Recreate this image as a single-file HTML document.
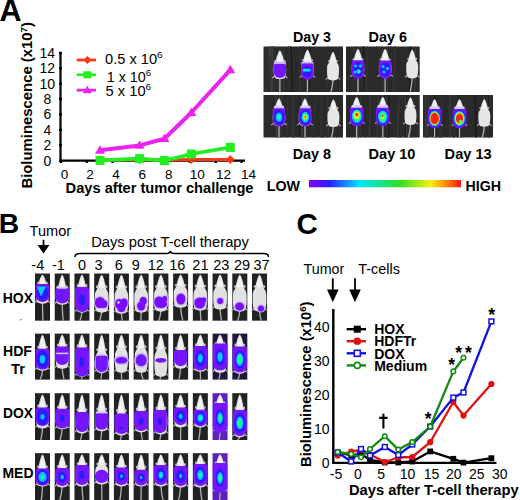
<!DOCTYPE html>
<html><head><meta charset="utf-8"><style>
html,body{margin:0;padding:0;background:#fff;width:520px;height:500px;overflow:hidden}
svg{display:block}
text{font-family:"Liberation Sans", sans-serif}
</style></head><body>
<svg width="520" height="500" viewBox="0 0 520 500" font-family='"Liberation Sans", sans-serif'>
<defs><filter id="soft" x="-5%" y="-5%" width="110%" height="110%"><feGaussianBlur stdDeviation="0.45"/></filter><radialGradient id="gP" cx="50%" cy="50%" r="50%"><stop offset="0" stop-color="#7400ff" stop-opacity="1"/><stop offset="0.75" stop-color="#7a08ff" stop-opacity="1"/><stop offset="1" stop-color="#a060ff" stop-opacity="0.0"/></radialGradient><radialGradient id="gB" cx="50%" cy="50%" r="50%"><stop offset="0" stop-color="#1830ff" stop-opacity="1"/><stop offset="0.6" stop-color="#3a1cff" stop-opacity="1"/><stop offset="0.85" stop-color="#7410ff" stop-opacity="1"/><stop offset="1" stop-color="#9050ff" stop-opacity="0"/></radialGradient><radialGradient id="gC" cx="50%" cy="50%" r="50%"><stop offset="0" stop-color="#20f0ff" stop-opacity="1"/><stop offset="0.35" stop-color="#10b0ff" stop-opacity="1"/><stop offset="0.6" stop-color="#2030ff" stop-opacity="1"/><stop offset="0.85" stop-color="#7410ff" stop-opacity="1"/><stop offset="1" stop-color="#9050ff" stop-opacity="0"/></radialGradient><radialGradient id="gG" cx="50%" cy="50%" r="50%"><stop offset="0" stop-color="#40ff40" stop-opacity="1"/><stop offset="0.3" stop-color="#10f0d0" stop-opacity="1"/><stop offset="0.5" stop-color="#10a0ff" stop-opacity="1"/><stop offset="0.7" stop-color="#2020ff" stop-opacity="1"/><stop offset="0.88" stop-color="#7410ff" stop-opacity="1"/><stop offset="1" stop-color="#9050ff" stop-opacity="0"/></radialGradient><radialGradient id="gY" cx="50%" cy="50%" r="50%"><stop offset="0" stop-color="#ff5010" stop-opacity="1"/><stop offset="0.2" stop-color="#f0f020" stop-opacity="1"/><stop offset="0.4" stop-color="#30ff60" stop-opacity="1"/><stop offset="0.55" stop-color="#10d0ff" stop-opacity="1"/><stop offset="0.72" stop-color="#2020ff" stop-opacity="1"/><stop offset="0.88" stop-color="#7410ff" stop-opacity="1"/><stop offset="1" stop-color="#9050ff" stop-opacity="0"/></radialGradient><radialGradient id="gR" cx="50%" cy="50%" r="50%"><stop offset="0" stop-color="#ff1010" stop-opacity="1"/><stop offset="0.38" stop-color="#ff1a10" stop-opacity="1"/><stop offset="0.5" stop-color="#f8e020" stop-opacity="1"/><stop offset="0.6" stop-color="#30ff70" stop-opacity="1"/><stop offset="0.7" stop-color="#10c0ff" stop-opacity="1"/><stop offset="0.8" stop-color="#2020ff" stop-opacity="1"/><stop offset="0.9" stop-color="#7410ff" stop-opacity="1"/><stop offset="1" stop-color="#9050ff" stop-opacity="0"/></radialGradient><radialGradient id="gW" cx="50%" cy="50%" r="50%"><stop offset="0" stop-color="#f4f4f4" stop-opacity="1"/><stop offset="0.7" stop-color="#d8d8d8" stop-opacity="1"/><stop offset="1" stop-color="#a0a0a0" stop-opacity="0.6"/></radialGradient><linearGradient id="cbar" x1="0" x2="1" y1="0" y2="0"><stop offset="0" stop-color="#8a00ff"/><stop offset="0.13" stop-color="#2a1cff"/><stop offset="0.33" stop-color="#00e4ff"/><stop offset="0.6" stop-color="#30e020"/><stop offset="0.8" stop-color="#f4f010"/><stop offset="0.9" stop-color="#ff8a00"/><stop offset="1" stop-color="#ff1010"/></linearGradient></defs>
<rect width="520" height="500" fill="#fff"/>
<text x="-0.5" y="21.3" font-size="30.5" font-weight="bold">A</text>
<text transform="translate(32,188.6) rotate(-90)" font-size="14" font-weight="bold" textLength="166.5" lengthAdjust="spacingAndGlyphs">Bioluminescence (x10<tspan font-size="9" dy="-5">7</tspan><tspan dy="5">)</tspan></text>
<path d="M60.5,53 L60.5,160.6 L245,160.6" stroke="#000" stroke-width="2.2" fill="none"/>
<rect x="59" y="159.3" width="3" height="2.4" fill="#000"/>
<text x="47.3" y="165.5" font-size="14" font-weight="normal" text-anchor="middle" fill="#000" >0</text>
<rect x="59" y="143.9" width="3" height="2.4" fill="#000"/>
<text x="47.3" y="150.1" font-size="14" font-weight="normal" text-anchor="middle" fill="#000" >2</text>
<rect x="59" y="128.6" width="3" height="2.4" fill="#000"/>
<text x="47.3" y="134.8" font-size="14" font-weight="normal" text-anchor="middle" fill="#000" >4</text>
<rect x="59" y="113.2" width="3" height="2.4" fill="#000"/>
<text x="47.3" y="119.4" font-size="14" font-weight="normal" text-anchor="middle" fill="#000" >6</text>
<rect x="59" y="97.9" width="3" height="2.4" fill="#000"/>
<text x="47.3" y="104.1" font-size="14" font-weight="normal" text-anchor="middle" fill="#000" >8</text>
<rect x="59" y="82.5" width="3" height="2.4" fill="#000"/>
<text x="47.3" y="88.7" font-size="14" font-weight="normal" text-anchor="middle" fill="#000" >10</text>
<rect x="59" y="67.1" width="3" height="2.4" fill="#000"/>
<text x="47.3" y="73.3" font-size="14" font-weight="normal" text-anchor="middle" fill="#000" >12</text>
<rect x="59" y="51.8" width="3" height="2.4" fill="#000"/>
<text x="47.3" y="58.0" font-size="14" font-weight="normal" text-anchor="middle" fill="#000" >14</text>
<rect x="59.8" y="160" width="2.4" height="3" fill="#000"/>
<text x="64.6" y="178.6" font-size="13.5" font-weight="normal" text-anchor="middle" fill="#000" >0</text>
<rect x="85.6" y="160" width="2.4" height="3" fill="#000"/>
<text x="90.1" y="178.6" font-size="13.5" font-weight="normal" text-anchor="middle" fill="#000" >2</text>
<rect x="111.4" y="160" width="2.4" height="3" fill="#000"/>
<text x="116.0" y="178.6" font-size="13.5" font-weight="normal" text-anchor="middle" fill="#000" >4</text>
<rect x="137.2" y="160" width="2.4" height="3" fill="#000"/>
<text x="142.2" y="178.6" font-size="13.5" font-weight="normal" text-anchor="middle" fill="#000" >6</text>
<rect x="163.0" y="160" width="2.4" height="3" fill="#000"/>
<text x="168.7" y="178.6" font-size="13.5" font-weight="normal" text-anchor="middle" fill="#000" >8</text>
<rect x="188.8" y="160" width="2.4" height="3" fill="#000"/>
<text x="197.3" y="178.6" font-size="13.5" font-weight="normal" text-anchor="middle" fill="#000" >10</text>
<rect x="214.6" y="160" width="2.4" height="3" fill="#000"/>
<text x="223.4" y="178.6" font-size="13.5" font-weight="normal" text-anchor="middle" fill="#000" >12</text>
<rect x="240.4" y="160" width="2.4" height="3" fill="#000"/>
<text x="248.6" y="178.6" font-size="13.5" font-weight="normal" text-anchor="middle" fill="#000" >14</text>
<text x="65.6" y="192.8" font-size="14" font-weight="bold" text-anchor="start" fill="#000" textLength="187.9" lengthAdjust="spacingAndGlyphs" >Days after tumor challenge</text>
<polyline points="100.0,159.8 139.6,159.6 164.4,160.0 191.4,159.5 230.3,159.5" stroke="#ff3a10" stroke-width="3.2" fill="none" stroke-linejoin="round"/>
<polyline points="100.0,160.4 139.6,158.6 164.4,160.6 191.4,154.0 230.3,147.4" stroke="#22ee22" stroke-width="3.8" fill="none" stroke-linejoin="round"/>
<polyline points="100.0,150.3 139.6,145.4 164.4,138.7 191.4,112.5 230.3,69.8" stroke="#ee22ee" stroke-width="4" fill="none" stroke-linejoin="round"/>
<path d="M100,155.20000000000002 L104.4,159.8 L100,164.4 L95.6,159.8Z" fill="#ff3a10"/>
<path d="M139.6,155.0 L144.0,159.6 L139.6,164.2 L135.2,159.6Z" fill="#ff3a10"/>
<path d="M164.4,155.4 L168.8,160.0 L164.4,164.6 L160.0,160.0Z" fill="#ff3a10"/>
<path d="M191.4,154.9 L195.8,159.5 L191.4,164.1 L187.0,159.5Z" fill="#ff3a10"/>
<path d="M230.3,154.9 L234.70000000000002,159.5 L230.3,164.1 L225.9,159.5Z" fill="#ff3a10"/>
<rect x="95.5" y="155.9" width="9" height="9" fill="#22ee22"/>
<rect x="135.1" y="154.1" width="9" height="9" fill="#22ee22"/>
<rect x="159.9" y="156.1" width="9" height="9" fill="#22ee22"/>
<rect x="186.9" y="149.5" width="9" height="9" fill="#22ee22"/>
<rect x="225.8" y="142.9" width="9" height="9" fill="#22ee22"/>
<path d="M100,145.3 L105,153.70000000000002 L95,153.70000000000002Z" fill="#ee22ee"/>
<path d="M139.6,140.4 L144.6,148.8 L134.6,148.8Z" fill="#ee22ee"/>
<path d="M164.4,133.7 L169.4,142.1 L159.4,142.1Z" fill="#ee22ee"/>
<path d="M191.4,107.5 L196.4,115.9 L186.4,115.9Z" fill="#ee22ee"/>
<path d="M230.3,64.8 L235.3,73.2 L225.3,73.2Z" fill="#ee22ee"/>
<line x1="76.7" y1="60" x2="96" y2="60" stroke="#ff3a10" stroke-width="2.8"/>
<path d="M87.3,56 L91.3,60 L87.3,64 L83.3,60Z" fill="#ff3a10"/>
<line x1="76.7" y1="74.8" x2="96" y2="74.8" stroke="#22ee22" stroke-width="2.8"/>
<rect x="83.3" y="71.3" width="8" height="7" fill="#22ee22"/>
<line x1="76.7" y1="90.2" x2="96" y2="90.2" stroke="#ee22ee" stroke-width="2.8"/>
<path d="M87.3,85.7 L91.8,93.2 L82.8,93.2Z" fill="#ee22ee"/>
<text x="105.1" y="64.1" font-size="14" textLength="57.5" lengthAdjust="spacingAndGlyphs">0.5 x 10<tspan font-size="9.5" dy="-6">6</tspan></text>
<text x="106.7" y="82.3" font-size="14" textLength="44.5" lengthAdjust="spacingAndGlyphs">1 x 10<tspan font-size="9.5" dy="-6">6</tspan></text>
<text x="105.6" y="95.8" font-size="14" textLength="45.5" lengthAdjust="spacingAndGlyphs">5 x 10<tspan font-size="9.5" dy="-6">6</tspan></text>
<text x="293" y="41.5" font-size="14" font-weight="bold" text-anchor="start" fill="#000" textLength="38" lengthAdjust="spacingAndGlyphs" >Day 3</text>
<text x="368.5" y="41.5" font-size="14" font-weight="bold" text-anchor="start" fill="#000" textLength="38.5" lengthAdjust="spacingAndGlyphs" >Day 6</text>
<text x="292.7" y="159.2" font-size="14" font-weight="bold" text-anchor="start" fill="#000" textLength="38.3" lengthAdjust="spacingAndGlyphs" >Day 8</text>
<text x="368.6" y="159.2" font-size="14" font-weight="bold" text-anchor="start" fill="#000" textLength="46.8" lengthAdjust="spacingAndGlyphs" >Day 10</text>
<text x="444.6" y="159.2" font-size="14" font-weight="bold" text-anchor="start" fill="#000" textLength="47.1" lengthAdjust="spacingAndGlyphs" >Day 13</text>
<rect x="309" y="180" width="152" height="7.3" fill="url(#cbar)"/>
<text x="266.7" y="191" font-size="14" font-weight="bold" text-anchor="start" fill="#000" textLength="33.3" lengthAdjust="spacingAndGlyphs" >LOW</text>
<text x="465.5" y="190.8" font-size="14" font-weight="bold" text-anchor="start" fill="#000" textLength="35.5" lengthAdjust="spacingAndGlyphs" >HIGH</text>
<g filter="url(#soft)">
<rect x="263.5" y="46.5" width="79.5" height="45.5" fill="#2b2b2b"/>
<line x1="289.6" y1="46.5" x2="288.2" y2="92.0" stroke="#363636" stroke-width="1.1"/>
<line x1="328.1" y1="46.5" x2="326.8" y2="92.0" stroke="#303030" stroke-width="1.0"/>
<line x1="303.8" y1="46.5" x2="303.6" y2="92.0" stroke="#303030" stroke-width="0.7"/>
<line x1="283.2" y1="46.5" x2="284.1" y2="92.0" stroke="#3c3c3c" stroke-width="1.1"/>
<line x1="274.1" y1="46.5" x2="274.3" y2="92.0" stroke="#363636" stroke-width="1.4"/>
<line x1="269.3" y1="46.5" x2="270.7" y2="92.0" stroke="#3c3c3c" stroke-width="1.1"/>
<line x1="268.1" y1="46.5" x2="267.0" y2="92.0" stroke="#363636" stroke-width="0.9"/>
<line x1="273.6" y1="46.5" x2="274.2" y2="92.0" stroke="#2c2c2c" stroke-width="1.3"/>
<line x1="272.5" y1="46.5" x2="272.1" y2="92.0" stroke="#3c3c3c" stroke-width="1.4"/>
<line x1="307.0" y1="46.5" x2="307.3" y2="92.0" stroke="#303030" stroke-width="1.3"/>
<line x1="303.0" y1="46.5" x2="302.4" y2="92.0" stroke="#3c3c3c" stroke-width="1.1"/>
<line x1="309.9" y1="46.5" x2="309.1" y2="92.0" stroke="#1a1a1a" stroke-width="1.0"/>
<line x1="278.4" y1="46.5" x2="277.8" y2="92.0" stroke="#363636" stroke-width="0.7"/>
<line x1="302.9" y1="46.5" x2="302.2" y2="92.0" stroke="#2c2c2c" stroke-width="1.5"/>
<line x1="340.5" y1="46.5" x2="339.5" y2="92.0" stroke="#303030" stroke-width="1.2"/>
<line x1="291.0" y1="46.5" x2="292.4" y2="92.0" stroke="#1a1a1a" stroke-width="1.1"/>
<line x1="270.5" y1="46.5" x2="271.6" y2="92.0" stroke="#3c3c3c" stroke-width="1.3"/>
<line x1="288.8" y1="46.5" x2="289.1" y2="92.0" stroke="#2c2c2c" stroke-width="1.3"/>
<line x1="299.9" y1="46.5" x2="299.8" y2="92.0" stroke="#303030" stroke-width="1.7"/>
<path d="M279.9,78.1 Q279.9,85.5 279.9,92.0" stroke="#b0b0b0" stroke-width="1.3" fill="none"/>
<path d="M272.1,78.1 L275.6,75.6 M287.6,78.1 L284.1,75.6" stroke="#a8a8a8" stroke-width="1.2" fill="none"/>
<path d="M279.9,50.6 C281.1,50.6 283.7,58.4 284.4,62.6 C285.1,64.3 286.1,64.8 286.1,68.3 C286.4,72.0 286.1,76.2 284.4,78.2 Q279.9,80.0 275.4,78.2 C273.6,76.2 273.4,72.0 273.6,68.3 C273.6,64.8 274.6,64.3 275.4,62.6 C276.1,58.4 278.6,50.6 279.9,50.6Z" fill="#e2e2e2"/>
<path d="M279.9,51.1 L283.5,62.2 L276.3,62.2Z" fill="#f2f2f2"/>
<ellipse cx="275.4" cy="61.1" rx="1.2" ry="1.1" fill="#c4c4c4"/>
<ellipse cx="284.4" cy="61.1" rx="1.2" ry="1.1" fill="#c4c4c4"/>
<path d="M307.5,77.3 Q307.5,85.2 307.5,92.0" stroke="#b0b0b0" stroke-width="1.3" fill="none"/>
<path d="M299.8,77.3 L303.2,74.8 M315.2,77.3 L311.8,74.8" stroke="#a8a8a8" stroke-width="1.2" fill="none"/>
<path d="M307.5,49.8 C308.8,49.8 311.3,57.6 312.0,61.8 C312.8,63.5 313.8,64.0 313.8,67.5 C314.0,71.2 313.8,75.5 312.0,77.4 Q307.5,79.2 303.0,77.4 C301.2,75.5 301.0,71.2 301.2,67.5 C301.2,64.0 302.2,63.5 303.0,61.8 C303.7,57.6 306.2,49.8 307.5,49.8Z" fill="#e2e2e2"/>
<path d="M307.5,50.3 L311.1,61.4 L303.9,61.4Z" fill="#f2f2f2"/>
<ellipse cx="303.0" cy="60.3" rx="1.2" ry="1.1" fill="#c4c4c4"/>
<ellipse cx="312.0" cy="60.3" rx="1.2" ry="1.1" fill="#c4c4c4"/>
<path d="M333.0,79.5 Q332.6,86.2 331.0,92.0" stroke="#b0b0b0" stroke-width="1.3" fill="none"/>
<path d="M325.6,79.5 L329.1,77.0 M340.4,79.5 L336.9,77.0" stroke="#a8a8a8" stroke-width="1.2" fill="none"/>
<path d="M333.0,52.0 C334.2,52.0 336.2,58.7 336.8,62.3 C337.5,64.0 338.9,64.5 338.9,68.0 C339.1,73.4 338.9,77.7 337.2,79.6 Q333.0,81.4 328.8,79.6 C327.1,77.7 326.9,73.4 327.1,68.0 C327.1,64.5 328.5,64.0 329.2,62.3 C329.8,58.7 331.8,52.0 333.0,52.0Z" fill="#e6e6e6"/>
<path d="M333.0,52.5 L336.0,62.0 L330.0,62.0Z" fill="#f0f0f0"/>
<ellipse cx="329.2" cy="61.0" rx="1.2" ry="1.1" fill="#c4c4c4"/>
<ellipse cx="336.8" cy="61.0" rx="1.2" ry="1.1" fill="#c4c4c4"/>
<rect x="273.8" y="62" width="12.2" height="3" fill="#c8b0ff"/>
<path d="M273.8,66.0 Q273.8,64.0 275.8,64.0 L284.0,64.0 Q286.0,64.0 286.0,66.0 L286.0,71.6 C286.0,76.1 282.9,78.0 279.9,78.0 C276.8,78.0 273.8,76.1 273.8,71.6Z" fill="#7412ff" fill-opacity="1"/>
<rect x="301.3" y="62" width="12.2" height="3" fill="#c8b0ff"/>
<path d="M301.1,65.5 Q301.1,63.5 303.1,63.5 L311.7,63.5 Q313.7,63.5 313.7,65.5 L313.7,72.9 C313.7,77.5 310.5,79.5 307.4,79.5 C304.2,79.5 301.1,77.5 301.1,72.9Z" fill="#7412ff" fill-opacity="1"/>
<ellipse cx="307.4" cy="71.5" rx="4.4" ry="5.6" fill="#2c1cff"/>
<rect x="302.7" y="68.8" width="8" height="2.6" rx="1.2" fill="#10e0f0"/>
</g>
<g filter="url(#soft)">
<rect x="346" y="46.5" width="73.7" height="45.5" fill="#2b2b2b"/>
<line x1="394.6" y1="46.5" x2="394.0" y2="92.0" stroke="#303030" stroke-width="1.5"/>
<line x1="388.4" y1="46.5" x2="388.1" y2="92.0" stroke="#1a1a1a" stroke-width="0.9"/>
<line x1="394.9" y1="46.5" x2="394.5" y2="92.0" stroke="#303030" stroke-width="1.7"/>
<line x1="390.8" y1="46.5" x2="391.6" y2="92.0" stroke="#1a1a1a" stroke-width="0.7"/>
<line x1="356.3" y1="46.5" x2="357.5" y2="92.0" stroke="#363636" stroke-width="1.1"/>
<line x1="382.6" y1="46.5" x2="382.7" y2="92.0" stroke="#363636" stroke-width="1.1"/>
<line x1="410.3" y1="46.5" x2="409.7" y2="92.0" stroke="#1a1a1a" stroke-width="1.6"/>
<line x1="376.8" y1="46.5" x2="376.4" y2="92.0" stroke="#2c2c2c" stroke-width="1.4"/>
<line x1="363.5" y1="46.5" x2="362.7" y2="92.0" stroke="#303030" stroke-width="0.8"/>
<line x1="363.7" y1="46.5" x2="362.8" y2="92.0" stroke="#1a1a1a" stroke-width="1.6"/>
<line x1="367.2" y1="46.5" x2="366.8" y2="92.0" stroke="#363636" stroke-width="1.1"/>
<line x1="387.6" y1="46.5" x2="387.7" y2="92.0" stroke="#363636" stroke-width="1.4"/>
<line x1="391.3" y1="46.5" x2="392.4" y2="92.0" stroke="#303030" stroke-width="1.1"/>
<line x1="415.3" y1="46.5" x2="414.9" y2="92.0" stroke="#3c3c3c" stroke-width="1.1"/>
<line x1="354.4" y1="46.5" x2="353.1" y2="92.0" stroke="#1a1a1a" stroke-width="0.7"/>
<line x1="362.0" y1="46.5" x2="362.3" y2="92.0" stroke="#363636" stroke-width="0.7"/>
<line x1="354.3" y1="46.5" x2="353.1" y2="92.0" stroke="#3c3c3c" stroke-width="0.8"/>
<line x1="373.1" y1="46.5" x2="372.2" y2="92.0" stroke="#303030" stroke-width="0.7"/>
<path d="M358.0,76.5 Q358.0,84.8 358.0,92.0" stroke="#b0b0b0" stroke-width="1.3" fill="none"/>
<path d="M350.2,76.5 L353.8,74.0 M365.8,76.5 L362.2,74.0" stroke="#a8a8a8" stroke-width="1.2" fill="none"/>
<path d="M358.0,49.0 C359.2,49.0 361.8,56.8 362.5,61.0 C363.2,62.7 364.2,63.2 364.2,66.7 C364.5,70.4 364.2,74.7 362.5,76.6 Q358.0,78.4 353.5,76.6 C351.8,74.7 351.5,70.4 351.8,66.7 C351.8,63.2 352.8,62.7 353.5,61.0 C354.2,56.8 356.8,49.0 358.0,49.0Z" fill="#e2e2e2"/>
<path d="M358.0,49.5 L361.6,60.6 L354.4,60.6Z" fill="#f2f2f2"/>
<ellipse cx="353.5" cy="59.5" rx="1.2" ry="1.1" fill="#c4c4c4"/>
<ellipse cx="362.5" cy="59.5" rx="1.2" ry="1.1" fill="#c4c4c4"/>
<path d="M385.1,76.5 Q385.1,84.8 385.1,92.0" stroke="#b0b0b0" stroke-width="1.3" fill="none"/>
<path d="M377.4,76.5 L380.9,74.0 M392.9,76.5 L389.4,74.0" stroke="#a8a8a8" stroke-width="1.2" fill="none"/>
<path d="M385.1,49.0 C386.4,49.0 388.9,56.8 389.6,61.0 C390.4,62.7 391.4,63.2 391.4,66.7 C391.6,70.4 391.4,74.7 389.6,76.6 Q385.1,78.4 380.6,76.6 C378.9,74.7 378.6,70.4 378.9,66.7 C378.9,63.2 379.9,62.7 380.6,61.0 C381.3,56.8 383.9,49.0 385.1,49.0Z" fill="#e2e2e2"/>
<path d="M385.1,49.5 L388.7,60.6 L381.5,60.6Z" fill="#f2f2f2"/>
<ellipse cx="380.6" cy="59.5" rx="1.2" ry="1.1" fill="#c4c4c4"/>
<ellipse cx="389.6" cy="59.5" rx="1.2" ry="1.1" fill="#c4c4c4"/>
<path d="M412.2,77.3 Q411.8,85.2 410.2,92.0" stroke="#b0b0b0" stroke-width="1.3" fill="none"/>
<path d="M404.8,77.3 L408.3,74.8 M419.6,77.3 L416.1,74.8" stroke="#a8a8a8" stroke-width="1.2" fill="none"/>
<path d="M412.2,49.8 C413.4,49.8 415.4,56.5 416.0,60.1 C416.7,61.8 418.1,62.3 418.1,65.8 C418.3,71.2 418.1,75.5 416.4,77.4 Q412.2,79.2 408.0,77.4 C406.3,75.5 406.1,71.2 406.3,65.8 C406.3,62.3 407.7,61.8 408.4,60.1 C409.0,56.5 411.0,49.8 412.2,49.8Z" fill="#e6e6e6"/>
<path d="M412.2,50.3 L415.2,59.8 L409.2,59.8Z" fill="#f0f0f0"/>
<ellipse cx="408.4" cy="58.8" rx="1.2" ry="1.1" fill="#c4c4c4"/>
<ellipse cx="416.0" cy="58.8" rx="1.2" ry="1.1" fill="#c4c4c4"/>
<path d="M351.7,62.3 Q351.7,60.3 353.7,60.3 L362.3,60.3 Q364.3,60.3 364.3,62.3 L364.3,72.1 C364.3,76.7 361.1,78.7 358.0,78.7 C354.9,78.7 351.7,76.7 351.7,72.1Z" fill="#7412ff" fill-opacity="1"/>
<ellipse cx="358.0" cy="69.5" rx="4.9" ry="7.2" fill="#2c1cff"/>
<ellipse cx="355.5" cy="66.0" rx="1.6" ry="1.5" fill="#10c8ff" fill-opacity="1"/>
<ellipse cx="360.5" cy="66.0" rx="1.6" ry="1.5" fill="#10c8ff" fill-opacity="1"/>
<ellipse cx="355.0" cy="72.0" rx="1.6" ry="1.5" fill="#10c8ff" fill-opacity="1"/>
<ellipse cx="358.6" cy="71.5" rx="2.6" ry="2.6" fill="#7412ff"/>
<ellipse cx="358.6" cy="71.5" rx="2.6" ry="2.6" fill="#2c1cff"/>
<ellipse cx="358.6" cy="71.5" rx="2.3" ry="2.3" fill="#10c0ff"/>
<ellipse cx="358.6" cy="71.5" rx="1.6" ry="1.6" fill="#20ff80"/>
<path d="M378.8,62.5 Q378.8,60.5 380.8,60.5 L389.4,60.5 Q391.4,60.5 391.4,62.5 L391.4,71.9 C391.4,76.5 388.2,78.5 385.1,78.5 C382.0,78.5 378.8,76.5 378.8,71.9Z" fill="#7412ff" fill-opacity="1"/>
<ellipse cx="385.1" cy="69.5" rx="4.9" ry="7.0" fill="#2c1cff"/>
<ellipse cx="383.0" cy="66.5" rx="1.6" ry="1.5" fill="#10c8ff" fill-opacity="1"/>
<ellipse cx="387.5" cy="68.5" rx="1.6" ry="1.5" fill="#10c8ff" fill-opacity="1"/>
<ellipse cx="384.0" cy="72.0" rx="1.6" ry="1.5" fill="#10c8ff" fill-opacity="1"/>
</g>
<g filter="url(#soft)">
<rect x="263.5" y="95" width="79.5" height="42.5" fill="#2b2b2b"/>
<line x1="293.7" y1="95" x2="294.0" y2="137.5" stroke="#2c2c2c" stroke-width="1.7"/>
<line x1="301.2" y1="95" x2="302.7" y2="137.5" stroke="#303030" stroke-width="1.6"/>
<line x1="300.6" y1="95" x2="299.5" y2="137.5" stroke="#1a1a1a" stroke-width="1.0"/>
<line x1="322.6" y1="95" x2="323.2" y2="137.5" stroke="#2c2c2c" stroke-width="1.2"/>
<line x1="304.5" y1="95" x2="304.6" y2="137.5" stroke="#363636" stroke-width="1.7"/>
<line x1="275.9" y1="95" x2="276.6" y2="137.5" stroke="#3c3c3c" stroke-width="1.7"/>
<line x1="287.6" y1="95" x2="286.9" y2="137.5" stroke="#303030" stroke-width="1.4"/>
<line x1="292.9" y1="95" x2="292.1" y2="137.5" stroke="#363636" stroke-width="1.0"/>
<line x1="306.5" y1="95" x2="305.6" y2="137.5" stroke="#3c3c3c" stroke-width="1.0"/>
<line x1="327.4" y1="95" x2="328.3" y2="137.5" stroke="#363636" stroke-width="1.6"/>
<line x1="321.8" y1="95" x2="321.8" y2="137.5" stroke="#363636" stroke-width="0.8"/>
<line x1="321.2" y1="95" x2="321.1" y2="137.5" stroke="#303030" stroke-width="1.5"/>
<line x1="279.5" y1="95" x2="279.3" y2="137.5" stroke="#3c3c3c" stroke-width="1.7"/>
<line x1="337.1" y1="95" x2="336.7" y2="137.5" stroke="#2c2c2c" stroke-width="1.7"/>
<line x1="281.6" y1="95" x2="281.1" y2="137.5" stroke="#363636" stroke-width="1.2"/>
<line x1="301.9" y1="95" x2="301.8" y2="137.5" stroke="#3c3c3c" stroke-width="1.6"/>
<line x1="315.1" y1="95" x2="314.0" y2="137.5" stroke="#303030" stroke-width="1.6"/>
<line x1="294.6" y1="95" x2="293.6" y2="137.5" stroke="#363636" stroke-width="1.2"/>
<line x1="325.7" y1="95" x2="327.0" y2="137.5" stroke="#2c2c2c" stroke-width="0.7"/>
<path d="M279.0,125.1 Q279.0,131.8 279.0,137.5" stroke="#b0b0b0" stroke-width="1.3" fill="none"/>
<path d="M271.2,125.1 L274.8,122.6 M286.8,125.1 L283.2,122.6" stroke="#a8a8a8" stroke-width="1.2" fill="none"/>
<path d="M279.0,98.6 C280.2,98.6 282.8,106.1 283.5,110.1 C284.2,111.8 285.2,112.3 285.2,115.6 C285.5,119.2 285.2,123.3 283.5,125.3 Q279.0,126.9 274.5,125.3 C272.8,123.3 272.5,119.2 272.8,115.6 C272.8,112.3 273.8,111.8 274.5,110.1 C275.2,106.1 277.8,98.6 279.0,98.6Z" fill="#e2e2e2"/>
<path d="M279.0,99.1 L282.6,109.8 L275.4,109.8Z" fill="#f2f2f2"/>
<ellipse cx="274.5" cy="108.8" rx="1.2" ry="1.1" fill="#c4c4c4"/>
<ellipse cx="283.5" cy="108.8" rx="1.2" ry="1.1" fill="#c4c4c4"/>
<path d="M305.0,125.1 Q305.0,131.8 305.0,137.5" stroke="#b0b0b0" stroke-width="1.3" fill="none"/>
<path d="M297.2,125.1 L300.8,122.6 M312.8,125.1 L309.2,122.6" stroke="#a8a8a8" stroke-width="1.2" fill="none"/>
<path d="M305.0,98.6 C306.2,98.6 308.8,106.1 309.5,110.1 C310.2,111.8 311.2,112.3 311.2,115.6 C311.5,119.2 311.2,123.3 309.5,125.3 Q305.0,126.9 300.5,125.3 C298.8,123.3 298.5,119.2 298.8,115.6 C298.8,112.3 299.8,111.8 300.5,110.1 C301.2,106.1 303.8,98.6 305.0,98.6Z" fill="#e2e2e2"/>
<path d="M305.0,99.1 L308.6,109.8 L301.4,109.8Z" fill="#f2f2f2"/>
<ellipse cx="300.5" cy="108.8" rx="1.2" ry="1.1" fill="#c4c4c4"/>
<ellipse cx="309.5" cy="108.8" rx="1.2" ry="1.1" fill="#c4c4c4"/>
<path d="M333.4,126.0 Q333.0,132.2 331.4,137.5" stroke="#b0b0b0" stroke-width="1.3" fill="none"/>
<path d="M326.0,126.0 L329.5,123.5 M340.8,126.0 L337.3,123.5" stroke="#a8a8a8" stroke-width="1.2" fill="none"/>
<path d="M333.4,99.5 C334.6,99.5 336.6,105.9 337.2,109.4 C337.9,111.0 339.3,111.6 339.3,114.9 C339.5,120.1 339.3,124.2 337.6,126.2 Q333.4,127.8 329.2,126.2 C327.5,124.2 327.3,120.1 327.5,114.9 C327.5,111.6 328.9,111.0 329.6,109.4 C330.2,105.9 332.2,99.5 333.4,99.5Z" fill="#e6e6e6"/>
<path d="M333.4,100.0 L336.4,109.1 L330.4,109.1Z" fill="#f0f0f0"/>
<ellipse cx="329.6" cy="108.2" rx="1.2" ry="1.1" fill="#c4c4c4"/>
<ellipse cx="337.2" cy="108.2" rx="1.2" ry="1.1" fill="#c4c4c4"/>
<rect x="274" y="105.8" width="10" height="2.6" fill="#d8c8ff"/>
<rect x="300.3" y="105.8" width="10" height="2.6" fill="#d8c8ff"/>
<path d="M272.8,110.2 Q272.8,108.2 274.8,108.2 L283.2,108.2 Q285.2,108.2 285.2,110.2 L285.2,119.7 C285.2,124.2 282.1,126.2 279.0,126.2 C275.9,126.2 272.8,124.2 272.8,119.7Z" fill="#7412ff" fill-opacity="1"/>
<ellipse cx="279.0" cy="117.2" rx="5.3" ry="7.7" fill="#2c1cff"/>
<ellipse cx="279.0" cy="117.2" rx="3.1" ry="4.5" fill="#10c0ff"/>
<ellipse cx="279.0" cy="117.2" rx="1.5" ry="2.2" fill="#20ff80"/>
<path d="M298.9,110.2 Q298.9,108.2 300.9,108.2 L309.7,108.2 Q311.7,108.2 311.7,110.2 L311.7,119.5 C311.7,124.2 308.5,126.2 305.3,126.2 C302.1,126.2 298.9,124.2 298.9,119.5Z" fill="#7412ff" fill-opacity="1"/>
<ellipse cx="305.3" cy="117.2" rx="5.5" ry="7.7" fill="#2c1cff"/>
<ellipse cx="305.3" cy="117.2" rx="3.8" ry="5.4" fill="#10c0ff"/>
<ellipse cx="305.3" cy="117.2" rx="2.7" ry="3.8" fill="#20ff80"/>
<ellipse cx="305.3" cy="117.2" rx="1.7" ry="2.3" fill="#f0f020"/>
<ellipse cx="305.3" cy="117.2" rx="0.8" ry="1.1" fill="#ff2010"/>
</g>
<g filter="url(#soft)">
<rect x="346" y="95" width="73.7" height="42.5" fill="#2b2b2b"/>
<line x1="398.8" y1="95" x2="400.1" y2="137.5" stroke="#1a1a1a" stroke-width="1.1"/>
<line x1="399.0" y1="95" x2="397.6" y2="137.5" stroke="#363636" stroke-width="1.8"/>
<line x1="389.4" y1="95" x2="388.3" y2="137.5" stroke="#1a1a1a" stroke-width="1.6"/>
<line x1="406.3" y1="95" x2="405.8" y2="137.5" stroke="#1a1a1a" stroke-width="1.4"/>
<line x1="386.3" y1="95" x2="387.2" y2="137.5" stroke="#363636" stroke-width="0.6"/>
<line x1="399.1" y1="95" x2="400.4" y2="137.5" stroke="#303030" stroke-width="1.2"/>
<line x1="378.1" y1="95" x2="377.2" y2="137.5" stroke="#363636" stroke-width="1.6"/>
<line x1="365.1" y1="95" x2="365.8" y2="137.5" stroke="#2c2c2c" stroke-width="1.2"/>
<line x1="370.4" y1="95" x2="369.3" y2="137.5" stroke="#3c3c3c" stroke-width="1.1"/>
<line x1="412.2" y1="95" x2="412.7" y2="137.5" stroke="#2c2c2c" stroke-width="1.7"/>
<line x1="405.4" y1="95" x2="406.7" y2="137.5" stroke="#3c3c3c" stroke-width="1.1"/>
<line x1="383.0" y1="95" x2="383.0" y2="137.5" stroke="#3c3c3c" stroke-width="0.8"/>
<line x1="409.6" y1="95" x2="410.4" y2="137.5" stroke="#363636" stroke-width="1.3"/>
<line x1="357.7" y1="95" x2="358.4" y2="137.5" stroke="#363636" stroke-width="1.2"/>
<line x1="386.9" y1="95" x2="387.0" y2="137.5" stroke="#2c2c2c" stroke-width="1.4"/>
<line x1="381.6" y1="95" x2="380.3" y2="137.5" stroke="#303030" stroke-width="1.7"/>
<line x1="360.7" y1="95" x2="360.7" y2="137.5" stroke="#303030" stroke-width="1.5"/>
<line x1="387.3" y1="95" x2="387.6" y2="137.5" stroke="#303030" stroke-width="1.1"/>
<path d="M356.6,123.5 Q356.6,131.0 356.6,137.5" stroke="#b0b0b0" stroke-width="1.3" fill="none"/>
<path d="M348.9,123.5 L352.4,121.0 M364.4,123.5 L360.9,121.0" stroke="#a8a8a8" stroke-width="1.2" fill="none"/>
<path d="M356.6,97.0 C357.9,97.0 360.4,104.5 361.1,108.5 C361.9,110.2 362.9,110.8 362.9,114.0 C363.1,117.6 362.9,121.8 361.1,123.7 Q356.6,125.3 352.1,123.7 C350.4,121.8 350.1,117.6 350.4,114.0 C350.4,110.8 351.4,110.2 352.1,108.5 C352.8,104.5 355.4,97.0 356.6,97.0Z" fill="#e2e2e2"/>
<path d="M356.6,97.5 L360.2,108.2 L353.0,108.2Z" fill="#f2f2f2"/>
<ellipse cx="352.1" cy="107.2" rx="1.2" ry="1.1" fill="#c4c4c4"/>
<ellipse cx="361.1" cy="107.2" rx="1.2" ry="1.1" fill="#c4c4c4"/>
<path d="M382.8,123.5 Q382.8,131.0 382.8,137.5" stroke="#b0b0b0" stroke-width="1.3" fill="none"/>
<path d="M375.1,123.5 L378.6,121.0 M390.6,123.5 L387.1,121.0" stroke="#a8a8a8" stroke-width="1.2" fill="none"/>
<path d="M382.8,97.0 C384.1,97.0 386.6,104.5 387.3,108.5 C388.1,110.2 389.1,110.8 389.1,114.0 C389.3,117.6 389.1,121.8 387.3,123.7 Q382.8,125.3 378.3,123.7 C376.6,121.8 376.3,117.6 376.6,114.0 C376.6,110.8 377.6,110.2 378.3,108.5 C379.0,104.5 381.6,97.0 382.8,97.0Z" fill="#e2e2e2"/>
<path d="M382.8,97.5 L386.4,108.2 L379.2,108.2Z" fill="#f2f2f2"/>
<ellipse cx="378.3" cy="107.2" rx="1.2" ry="1.1" fill="#c4c4c4"/>
<ellipse cx="387.3" cy="107.2" rx="1.2" ry="1.1" fill="#c4c4c4"/>
<path d="M410.5,124.0 Q410.1,131.2 408.5,137.5" stroke="#b0b0b0" stroke-width="1.3" fill="none"/>
<path d="M403.1,124.0 L406.6,121.5 M417.9,124.0 L414.4,121.5" stroke="#a8a8a8" stroke-width="1.2" fill="none"/>
<path d="M410.5,97.5 C411.7,97.5 413.7,103.9 414.3,107.4 C415.0,109.0 416.4,109.6 416.4,112.9 C416.6,118.1 416.4,122.2 414.7,124.2 Q410.5,125.8 406.3,124.2 C404.6,122.2 404.4,118.1 404.6,112.9 C404.6,109.6 406.0,109.0 406.7,107.4 C407.3,103.9 409.3,97.5 410.5,97.5Z" fill="#e6e6e6"/>
<path d="M410.5,98.0 L413.5,107.1 L407.5,107.1Z" fill="#f0f0f0"/>
<ellipse cx="406.7" cy="106.2" rx="1.2" ry="1.1" fill="#c4c4c4"/>
<ellipse cx="414.3" cy="106.2" rx="1.2" ry="1.1" fill="#c4c4c4"/>
<rect x="351.8" y="105" width="10" height="2.8" fill="#d8c8ff"/>
<rect x="377.8" y="105" width="10" height="2.8" fill="#d8c8ff"/>
<path d="M349.9,109.7 Q349.9,107.7 351.9,107.7 L361.7,107.7 Q363.7,107.7 363.7,109.7 L363.7,119.1 C363.7,124.1 360.2,126.3 356.8,126.3 C353.4,126.3 349.9,124.1 349.9,119.1Z" fill="#7412ff" fill-opacity="1"/>
<ellipse cx="356.8" cy="116.6" rx="5.9" ry="8.0" fill="#2c1cff"/>
<ellipse cx="356.8" cy="116.2" rx="5.0" ry="6.7" fill="#10c0ff"/>
<ellipse cx="356.8" cy="115.7" rx="4.0" ry="5.4" fill="#20ff80"/>
<ellipse cx="356.8" cy="115.2" rx="2.8" ry="3.7" fill="#f0f020"/>
<ellipse cx="356.8" cy="114.6" rx="1.4" ry="1.9" fill="#ff2010"/>
<path d="M375.9,109.7 Q375.9,107.7 377.9,107.7 L387.7,107.7 Q389.7,107.7 389.7,109.7 L389.7,119.1 C389.7,124.1 386.2,126.3 382.8,126.3 C379.4,126.3 375.9,124.1 375.9,119.1Z" fill="#7412ff" fill-opacity="1"/>
<ellipse cx="382.8" cy="117.0" rx="5.9" ry="8.0" fill="#2c1cff"/>
<ellipse cx="382.8" cy="117.0" rx="4.8" ry="6.5" fill="#10c0ff"/>
<ellipse cx="382.8" cy="117.0" rx="3.6" ry="4.8" fill="#20ff80"/>
<ellipse cx="382.8" cy="117.0" rx="1.7" ry="2.3" fill="#f0f020"/>
<ellipse cx="382.5" cy="116.0" rx="1.2" ry="1.0" fill="#ff2010" fill-opacity="1"/>
</g>
<g filter="url(#soft)">
<rect x="423" y="95" width="70" height="42.5" fill="#2b2b2b"/>
<line x1="458.4" y1="95" x2="457.7" y2="137.5" stroke="#3c3c3c" stroke-width="0.8"/>
<line x1="458.6" y1="95" x2="457.8" y2="137.5" stroke="#1a1a1a" stroke-width="1.2"/>
<line x1="459.6" y1="95" x2="460.8" y2="137.5" stroke="#2c2c2c" stroke-width="1.7"/>
<line x1="437.8" y1="95" x2="436.6" y2="137.5" stroke="#1a1a1a" stroke-width="0.8"/>
<line x1="454.1" y1="95" x2="453.8" y2="137.5" stroke="#303030" stroke-width="1.4"/>
<line x1="438.5" y1="95" x2="439.7" y2="137.5" stroke="#2c2c2c" stroke-width="1.5"/>
<line x1="434.5" y1="95" x2="435.7" y2="137.5" stroke="#2c2c2c" stroke-width="0.8"/>
<line x1="489.8" y1="95" x2="488.6" y2="137.5" stroke="#363636" stroke-width="1.5"/>
<line x1="484.2" y1="95" x2="485.2" y2="137.5" stroke="#363636" stroke-width="1.8"/>
<line x1="435.0" y1="95" x2="434.7" y2="137.5" stroke="#1a1a1a" stroke-width="1.8"/>
<line x1="452.6" y1="95" x2="453.3" y2="137.5" stroke="#2c2c2c" stroke-width="1.0"/>
<line x1="425.3" y1="95" x2="425.9" y2="137.5" stroke="#3c3c3c" stroke-width="1.2"/>
<line x1="450.1" y1="95" x2="450.2" y2="137.5" stroke="#3c3c3c" stroke-width="1.3"/>
<line x1="428.4" y1="95" x2="427.2" y2="137.5" stroke="#363636" stroke-width="1.8"/>
<line x1="442.1" y1="95" x2="441.1" y2="137.5" stroke="#303030" stroke-width="1.7"/>
<line x1="475.4" y1="95" x2="475.9" y2="137.5" stroke="#1a1a1a" stroke-width="1.6"/>
<line x1="488.3" y1="95" x2="489.6" y2="137.5" stroke="#1a1a1a" stroke-width="0.8"/>
<path d="M434.6,125.8 Q434.6,132.2 434.6,137.5" stroke="#b0b0b0" stroke-width="1.3" fill="none"/>
<path d="M426.9,125.8 L430.4,123.3 M442.4,125.8 L438.9,123.3" stroke="#a8a8a8" stroke-width="1.2" fill="none"/>
<path d="M434.6,99.3 C435.9,99.3 438.4,106.8 439.1,110.8 C439.9,112.5 440.9,113.0 440.9,116.3 C441.1,119.9 440.9,124.0 439.1,126.0 Q434.6,127.6 430.1,126.0 C428.4,124.0 428.1,119.9 428.4,116.3 C428.4,113.0 429.4,112.5 430.1,110.8 C430.8,106.8 433.4,99.3 434.6,99.3Z" fill="#e2e2e2"/>
<path d="M434.6,99.8 L438.2,110.5 L431.0,110.5Z" fill="#f2f2f2"/>
<ellipse cx="430.1" cy="109.5" rx="1.2" ry="1.1" fill="#c4c4c4"/>
<ellipse cx="439.1" cy="109.5" rx="1.2" ry="1.1" fill="#c4c4c4"/>
<path d="M459.5,125.8 Q459.5,132.2 459.5,137.5" stroke="#b0b0b0" stroke-width="1.3" fill="none"/>
<path d="M451.8,125.8 L455.2,123.3 M467.2,125.8 L463.8,123.3" stroke="#a8a8a8" stroke-width="1.2" fill="none"/>
<path d="M459.5,99.3 C460.8,99.3 463.3,106.8 464.0,110.8 C464.8,112.5 465.8,113.0 465.8,116.3 C466.0,119.9 465.8,124.0 464.0,126.0 Q459.5,127.6 455.0,126.0 C453.2,124.0 453.0,119.9 453.2,116.3 C453.2,113.0 454.2,112.5 455.0,110.8 C455.7,106.8 458.2,99.3 459.5,99.3Z" fill="#e2e2e2"/>
<path d="M459.5,99.8 L463.1,110.5 L455.9,110.5Z" fill="#f2f2f2"/>
<ellipse cx="455.0" cy="109.5" rx="1.2" ry="1.1" fill="#c4c4c4"/>
<ellipse cx="464.0" cy="109.5" rx="1.2" ry="1.1" fill="#c4c4c4"/>
<path d="M484.3,125.8 Q483.9,132.2 482.3,137.5" stroke="#b0b0b0" stroke-width="1.3" fill="none"/>
<path d="M476.9,125.8 L480.4,123.3 M491.7,125.8 L488.2,123.3" stroke="#a8a8a8" stroke-width="1.2" fill="none"/>
<path d="M484.3,99.3 C485.5,99.3 487.5,105.7 488.1,109.2 C488.8,110.8 490.2,111.4 490.2,114.7 C490.4,119.9 490.2,124.0 488.5,126.0 Q484.3,127.6 480.1,126.0 C478.4,124.0 478.2,119.9 478.4,114.7 C478.4,111.4 479.8,110.8 480.5,109.2 C481.1,105.7 483.1,99.3 484.3,99.3Z" fill="#e6e6e6"/>
<path d="M484.3,99.8 L487.3,108.9 L481.3,108.9Z" fill="#f0f0f0"/>
<ellipse cx="480.5" cy="108.0" rx="1.2" ry="1.1" fill="#c4c4c4"/>
<ellipse cx="488.1" cy="108.0" rx="1.2" ry="1.1" fill="#c4c4c4"/>
<rect x="429.6" y="106.5" width="10" height="2.6" fill="#d8c8ff"/>
<rect x="454.5" y="106.5" width="10" height="2.6" fill="#d8c8ff"/>
<path d="M427.6,110.9 Q427.6,108.9 429.6,108.9 L439.6,108.9 Q441.6,108.9 441.6,110.9 L441.6,120.8 C441.6,125.9 438.1,128.1 434.6,128.1 C431.1,128.1 427.6,125.9 427.6,120.8Z" fill="#7412ff" fill-opacity="1"/>
<ellipse cx="434.6" cy="118.5" rx="6.2" ry="8.4" fill="#2c1cff"/>
<ellipse cx="434.6" cy="118.5" rx="5.6" ry="7.7" fill="#10c0ff"/>
<ellipse cx="434.6" cy="118.5" rx="5.0" ry="6.9" fill="#20ff80"/>
<ellipse cx="434.6" cy="118.5" rx="4.6" ry="6.3" fill="#f0f020"/>
<ellipse cx="434.6" cy="118.5" rx="4.2" ry="5.8" fill="#ff2010"/>
<path d="M452.5,110.9 Q452.5,108.9 454.5,108.9 L464.5,108.9 Q466.5,108.9 466.5,110.9 L466.5,120.8 C466.5,125.9 463.0,128.1 459.5,128.1 C456.0,128.1 452.5,125.9 452.5,120.8Z" fill="#7412ff" fill-opacity="1"/>
<ellipse cx="459.5" cy="118.5" rx="6.2" ry="8.4" fill="#2c1cff"/>
<ellipse cx="459.5" cy="118.5" rx="5.5" ry="7.5" fill="#10c0ff"/>
<ellipse cx="459.5" cy="118.5" rx="4.9" ry="6.7" fill="#20ff80"/>
<ellipse cx="459.5" cy="118.5" rx="4.3" ry="6.0" fill="#f0f020"/>
<ellipse cx="459.5" cy="118.5" rx="3.6" ry="5.0" fill="#ff2010"/>
<ellipse cx="460.5" cy="121.5" rx="1.8" ry="1.8" fill="#30ff50" fill-opacity="1"/>
</g>
<text x="-1.2" y="232.8" font-size="28.3" font-weight="bold">B</text>
<text x="29.6" y="236.3" font-size="14" font-weight="normal" text-anchor="start" fill="#000" textLength="41.6" lengthAdjust="spacingAndGlyphs" >Tumor</text>
<line x1="43.5" y1="239.8" x2="43.5" y2="246" stroke="#000" stroke-width="1.8"/>
<path d="M37.5,245 L49.5,245 L43.5,253.4Z" fill="#000"/>
<text x="91.2" y="246.6" font-size="14" font-weight="normal" text-anchor="start" fill="#000" textLength="157.7" lengthAdjust="spacingAndGlyphs" >Days post T-cell therapy</text>
<path d="M75,257 Q75,253.6 80,253.6 L166,253.6 Q170.4,253.6 170.4,250.8 Q170.4,253.6 175,253.6 L263.5,253.6 Q268.5,253.6 268.5,257" stroke="#000" stroke-width="1.5" fill="none"/>
<text x="37.75" y="269.8" font-size="14.5" font-weight="normal" text-anchor="middle" fill="#000" >-4</text>
<text x="58.4" y="269.8" font-size="14.5" font-weight="normal" text-anchor="middle" fill="#000" >-1</text>
<text x="82" y="269.8" font-size="14.5" font-weight="normal" text-anchor="middle" fill="#000" >0</text>
<text x="98.5" y="269.8" font-size="14.5" font-weight="normal" text-anchor="middle" fill="#000" >3</text>
<text x="118.8" y="269.8" font-size="14.5" font-weight="normal" text-anchor="middle" fill="#000" >6</text>
<text x="135.7" y="269.8" font-size="14.5" font-weight="normal" text-anchor="middle" fill="#000" >9</text>
<text x="155.8" y="269.8" font-size="14.5" font-weight="normal" text-anchor="middle" fill="#000" >12</text>
<text x="177.3" y="269.8" font-size="14.5" font-weight="normal" text-anchor="middle" fill="#000" >16</text>
<text x="200.4" y="269.8" font-size="14.5" font-weight="normal" text-anchor="middle" fill="#000" >21</text>
<text x="221.2" y="269.8" font-size="14.5" font-weight="normal" text-anchor="middle" fill="#000" >23</text>
<text x="242" y="269.8" font-size="14.5" font-weight="normal" text-anchor="middle" fill="#000" >29</text>
<text x="261.5" y="269.8" font-size="14.5" font-weight="normal" text-anchor="middle" fill="#000" >37</text>
<circle cx="20.8" cy="319.6" r="0.9" fill="#888"/>
<text x="2.8" y="303" font-size="14" font-weight="bold" text-anchor="start" fill="#000" textLength="30.2" lengthAdjust="spacingAndGlyphs" >HOX</text>
<text x="3" y="356" font-size="14" font-weight="bold" text-anchor="start" fill="#000" textLength="29" lengthAdjust="spacingAndGlyphs" >HDF</text>
<text x="11" y="374" font-size="14" font-weight="bold" text-anchor="start" fill="#000" textLength="14" lengthAdjust="spacingAndGlyphs" >Tr</text>
<text x="3" y="418" font-size="14" font-weight="bold" text-anchor="start" fill="#000" textLength="30" lengthAdjust="spacingAndGlyphs" >DOX</text>
<text x="2.5" y="478.4" font-size="14" font-weight="bold" text-anchor="start" fill="#000" textLength="31" lengthAdjust="spacingAndGlyphs" >MED</text>
<g filter="url(#soft)">
<rect x="35.0" y="273.5" width="15" height="47.2" fill="#222222"/>
<path d="M42.5,302.7 Q42.6,312.2 42.9,320.7" stroke="#b0b0b0" stroke-width="1.3" fill="none"/>
<path d="M34.6,302.7 L38.1,300.2 M50.4,302.7 L46.9,300.2" stroke="#a8a8a8" stroke-width="1.2" fill="none"/>
<path d="M42.5,274.7 C43.8,274.7 46.0,280.7 46.6,284.0 C47.4,285.7 48.9,286.3 48.9,289.8 C49.2,296.4 48.9,300.8 47.1,302.8 Q42.5,304.6 37.9,302.8 C36.1,300.8 35.8,296.4 36.1,289.8 C36.1,286.3 37.6,285.7 38.4,284.0 C39.0,280.7 41.2,274.7 42.5,274.7Z" fill="#e2e2e2"/>
<path d="M42.5,275.2 L45.8,283.7 L39.2,283.7Z" fill="#f2f2f2"/>
<ellipse cx="38.4" cy="282.9" rx="1.3" ry="1.2" fill="#c4c4c4"/>
<ellipse cx="46.6" cy="282.9" rx="1.3" ry="1.2" fill="#c4c4c4"/>
<path d="M35.6,286.0 Q35.6,284.0 37.6,284.0 L47.4,284.0 Q49.4,284.0 49.4,286.0 L49.4,294.8 C49.4,299.8 46.0,302.0 42.5,302.0 C39.0,302.0 35.6,299.8 35.6,294.8Z" fill="#7412ff" fill-opacity="1"/>
<ellipse cx="42.5" cy="293.0" rx="5.7" ry="7.4" fill="#2c1cff"/>
<path d="M37.0,286.5 L46.0,286.5 L41.0,296.5Z" fill="#10c8ff"/>
</g>
<g filter="url(#soft)">
<rect x="54.730000000000004" y="273.5" width="15" height="47.2" fill="#222222"/>
<path d="M62.2,303.7 Q62.4,312.7 63.2,320.7" stroke="#b0b0b0" stroke-width="1.3" fill="none"/>
<path d="M54.3,303.7 L57.8,301.2 M70.1,303.7 L66.6,301.2" stroke="#a8a8a8" stroke-width="1.2" fill="none"/>
<path d="M62.2,274.7 C63.5,274.7 65.7,283.5 66.3,288.2 C67.1,290.0 68.6,290.6 68.6,294.2 C68.9,297.2 68.6,301.7 66.8,303.8 Q62.2,305.6 57.6,303.8 C55.8,301.7 55.6,297.2 55.8,294.2 C55.8,290.6 57.4,290.0 58.1,288.2 C58.7,283.5 61.0,274.7 62.2,274.7Z" fill="#e2e2e2"/>
<path d="M62.2,275.2 L65.5,287.8 L59.0,287.8Z" fill="#f2f2f2"/>
<ellipse cx="58.1" cy="286.6" rx="1.3" ry="1.2" fill="#c4c4c4"/>
<ellipse cx="66.3" cy="286.6" rx="1.3" ry="1.2" fill="#c4c4c4"/>
<path d="M55.3,290.5 Q55.3,288.5 57.3,288.5 L67.1,288.5 Q69.1,288.5 69.1,290.5 L69.1,296.3 C69.1,301.3 65.7,303.5 62.2,303.5 C58.8,303.5 55.3,301.3 55.3,296.3Z" fill="#7412ff" fill-opacity="1"/>
<ellipse cx="62.2" cy="296.0" rx="1.0" ry="1.1" fill="#2c1cff"/>
<rect x="56.230000000000004" y="286.8" width="12" height="1.6" fill="#d8c8f8"/>
</g>
<g filter="url(#soft)">
<rect x="74.46000000000001" y="273.5" width="15" height="47.2" fill="#222222"/>
<path d="M82.0,311.7 Q81.5,316.7 79.9,320.7" stroke="#b0b0b0" stroke-width="1.3" fill="none"/>
<path d="M74.1,311.7 L77.6,309.2 M89.9,311.7 L86.4,309.2" stroke="#a8a8a8" stroke-width="1.2" fill="none"/>
<path d="M82.0,274.7 C83.2,274.7 85.4,282.7 86.1,287.0 C86.8,289.3 88.4,290.0 88.4,294.6 C88.6,303.2 88.4,308.9 86.6,311.6 Q82.0,313.8 77.4,311.6 C75.6,308.9 75.3,303.2 75.6,294.6 C75.6,290.0 77.1,289.3 77.9,287.0 C78.5,282.7 80.7,274.7 82.0,274.7Z" fill="#e2e2e2"/>
<path d="M82.0,275.2 L85.2,286.6 L78.7,286.6Z" fill="#f2f2f2"/>
<ellipse cx="77.9" cy="285.5" rx="1.3" ry="1.5" fill="#c4c4c4"/>
<ellipse cx="86.1" cy="285.5" rx="1.3" ry="1.5" fill="#c4c4c4"/>
<path d="M75.0,289.0 Q75.0,287.0 77.0,287.0 L87.0,287.0 Q89.0,287.0 89.0,289.0 L89.0,304.6 C89.0,309.8 85.5,312.0 82.0,312.0 C78.5,312.0 75.0,309.8 75.0,304.6Z" fill="#7412ff" fill-opacity="1"/>
<ellipse cx="82.0" cy="299.5" rx="3.1" ry="5.6" fill="#2c1cff"/>
</g>
<g filter="url(#soft)">
<rect x="94.19" y="273.5" width="15" height="47.2" fill="#222222"/>
<path d="M101.7,311.7 Q101.2,316.7 99.5,320.7" stroke="#b0b0b0" stroke-width="1.3" fill="none"/>
<path d="M93.4,311.7 L96.9,309.2 M110.0,311.7 L106.5,309.2" stroke="#a8a8a8" stroke-width="1.2" fill="none"/>
<path d="M101.7,274.7 C103.0,274.7 105.4,283.6 106.0,288.4 C106.9,290.7 108.5,291.4 108.5,296.0 C108.8,303.2 108.5,308.9 106.6,311.6 Q101.7,313.8 96.8,311.6 C94.9,308.9 94.6,303.2 94.9,296.0 C94.9,291.4 96.5,290.7 97.3,288.4 C98.0,283.6 100.3,274.7 101.7,274.7Z" fill="#e2e2e2"/>
<path d="M101.7,275.2 L105.2,288.0 L98.2,288.0Z" fill="#f2f2f2"/>
<ellipse cx="97.3" cy="286.7" rx="1.4" ry="1.5" fill="#c4c4c4"/>
<ellipse cx="106.0" cy="286.7" rx="1.4" ry="1.5" fill="#c4c4c4"/>
<ellipse cx="99.9" cy="302.5" rx="6.1" ry="6.6" fill="#c8b0ff" fill-opacity="0.9"/>
<ellipse cx="103.9" cy="304.0" rx="4.6" ry="5.1" fill="#c8b0ff" fill-opacity="0.9"/>
<ellipse cx="99.9" cy="302.5" rx="5.0" ry="5.5" fill="#7a08ff" fill-opacity="1"/>
<ellipse cx="103.9" cy="304.0" rx="3.5" ry="4.0" fill="#7a08ff" fill-opacity="1"/>
</g>
<g filter="url(#soft)">
<rect x="113.92" y="273.5" width="15" height="47.2" fill="#222222"/>
<path d="M121.4,312.7 Q121.6,317.2 122.4,320.7" stroke="#b0b0b0" stroke-width="1.3" fill="none"/>
<path d="M113.1,312.7 L116.6,310.2 M129.7,312.7 L126.2,310.2" stroke="#a8a8a8" stroke-width="1.2" fill="none"/>
<path d="M121.4,274.7 C122.8,274.7 125.1,283.8 125.8,288.7 C126.6,291.1 128.2,291.9 128.2,296.5 C128.5,303.9 128.2,309.8 126.3,312.5 Q121.4,314.9 116.5,312.5 C114.6,309.8 114.3,303.9 114.6,296.5 C114.6,291.9 116.3,291.1 117.1,288.7 C117.7,283.8 120.1,274.7 121.4,274.7Z" fill="#e2e2e2"/>
<path d="M121.4,275.2 L124.9,288.3 L117.9,288.3Z" fill="#f2f2f2"/>
<ellipse cx="117.1" cy="287.1" rx="1.4" ry="1.6" fill="#c4c4c4"/>
<ellipse cx="125.8" cy="287.1" rx="1.4" ry="1.6" fill="#c4c4c4"/>
<ellipse cx="119.1" cy="304.0" rx="5.1" ry="6.1" fill="#c8b0ff" fill-opacity="0.9"/>
<ellipse cx="124.1" cy="303.0" rx="4.6" ry="5.6" fill="#c8b0ff" fill-opacity="0.9"/>
<ellipse cx="121.4" cy="308.0" rx="5.1" ry="5.1" fill="#c8b0ff" fill-opacity="0.9"/>
<ellipse cx="119.1" cy="304.0" rx="4.0" ry="5.0" fill="#7a08ff" fill-opacity="1"/>
<ellipse cx="124.1" cy="303.0" rx="3.5" ry="4.5" fill="#7a08ff" fill-opacity="1"/>
<ellipse cx="121.4" cy="308.0" rx="4.0" ry="4.0" fill="#7a08ff" fill-opacity="1"/>
<ellipse cx="118.5" cy="302.5" rx="1.3" ry="1.3" fill="#e8e0ff" fill-opacity="1"/>
</g>
<g filter="url(#soft)">
<rect x="133.65" y="273.5" width="15" height="47.2" fill="#222222"/>
<path d="M141.2,311.7 Q141.1,316.7 140.8,320.7" stroke="#b0b0b0" stroke-width="1.3" fill="none"/>
<path d="M132.8,311.7 L136.3,309.2 M149.5,311.7 L146.0,309.2" stroke="#a8a8a8" stroke-width="1.2" fill="none"/>
<path d="M141.2,274.7 C142.5,274.7 144.8,283.6 145.5,288.4 C146.3,290.7 148.0,291.4 148.0,296.0 C148.2,303.2 148.0,308.9 146.0,311.6 Q141.2,313.8 136.3,311.6 C134.3,308.9 134.1,303.2 134.3,296.0 C134.3,291.4 136.0,290.7 136.8,288.4 C137.5,283.6 139.8,274.7 141.2,274.7Z" fill="#e2e2e2"/>
<path d="M141.2,275.2 L144.6,288.0 L137.7,288.0Z" fill="#f2f2f2"/>
<ellipse cx="136.8" cy="286.7" rx="1.4" ry="1.5" fill="#c4c4c4"/>
<ellipse cx="145.5" cy="286.7" rx="1.4" ry="1.5" fill="#c4c4c4"/>
<ellipse cx="143.2" cy="301.0" rx="4.6" ry="5.1" fill="#c8b0ff" fill-opacity="0.9"/>
<ellipse cx="141.2" cy="306.0" rx="5.1" ry="5.6" fill="#c8b0ff" fill-opacity="0.9"/>
<ellipse cx="143.2" cy="301.0" rx="3.5" ry="4.0" fill="#7a08ff" fill-opacity="1"/>
<ellipse cx="141.2" cy="306.0" rx="4.0" ry="4.5" fill="#7a08ff" fill-opacity="1"/>
</g>
<g filter="url(#soft)">
<rect x="153.38" y="273.5" width="15" height="47.2" fill="#222222"/>
<path d="M160.9,310.7 Q160.5,316.2 158.7,320.7" stroke="#b0b0b0" stroke-width="1.3" fill="none"/>
<path d="M152.6,310.7 L156.1,308.2 M169.2,310.7 L165.7,308.2" stroke="#a8a8a8" stroke-width="1.2" fill="none"/>
<path d="M160.9,274.7 C162.2,274.7 164.6,283.4 165.2,288.0 C166.0,290.2 167.7,291.0 167.7,295.4 C168.0,302.4 167.7,308.0 165.8,310.6 Q160.9,312.8 156.0,310.6 C154.1,308.0 153.8,302.4 154.1,295.4 C154.1,291.0 155.7,290.2 156.5,288.0 C157.2,283.4 159.5,274.7 160.9,274.7Z" fill="#e2e2e2"/>
<path d="M160.9,275.2 L164.4,287.6 L157.4,287.6Z" fill="#f2f2f2"/>
<ellipse cx="156.5" cy="286.4" rx="1.4" ry="1.5" fill="#c4c4c4"/>
<ellipse cx="165.2" cy="286.4" rx="1.4" ry="1.5" fill="#c4c4c4"/>
<ellipse cx="159.2" cy="302.0" rx="6.1" ry="6.6" fill="#c8b0ff" fill-opacity="0.9"/>
<ellipse cx="164.7" cy="299.0" rx="3.6" ry="4.1" fill="#c8b0ff" fill-opacity="0.9"/>
<ellipse cx="161.2" cy="304.0" rx="7.1" ry="5.1" fill="#c8b0ff" fill-opacity="0.9"/>
<ellipse cx="159.2" cy="302.0" rx="5.0" ry="5.5" fill="#7a08ff" fill-opacity="1"/>
<ellipse cx="164.7" cy="299.0" rx="2.5" ry="3.0" fill="#7a08ff" fill-opacity="1"/>
<ellipse cx="161.2" cy="304.0" rx="6.0" ry="4.0" fill="#7a08ff" fill-opacity="1"/>
</g>
<g filter="url(#soft)">
<rect x="173.11" y="273.5" width="15" height="47.2" fill="#222222"/>
<path d="M180.6,306.7 Q181.0,314.2 182.8,320.7" stroke="#b0b0b0" stroke-width="1.3" fill="none"/>
<path d="M172.3,306.7 L175.8,304.2 M188.9,306.7 L185.4,304.2" stroke="#a8a8a8" stroke-width="1.2" fill="none"/>
<path d="M180.6,274.7 C182.0,274.7 184.3,282.4 185.0,286.6 C185.8,288.6 187.4,289.2 187.4,293.2 C187.7,299.4 187.4,304.4 185.5,306.7 Q180.6,308.7 175.7,306.7 C173.8,304.4 173.5,299.4 173.8,293.2 C173.8,289.2 175.4,288.6 176.3,286.6 C176.9,282.4 179.2,274.7 180.6,274.7Z" fill="#e2e2e2"/>
<path d="M180.6,275.2 L184.1,286.2 L177.1,286.2Z" fill="#f2f2f2"/>
<ellipse cx="176.3" cy="285.2" rx="1.4" ry="1.3" fill="#c4c4c4"/>
<ellipse cx="185.0" cy="285.2" rx="1.4" ry="1.3" fill="#c4c4c4"/>
<ellipse cx="180.9" cy="299.0" rx="5.6" ry="6.6" fill="#c8b0ff" fill-opacity="0.9"/>
<ellipse cx="180.9" cy="299.0" rx="4.5" ry="5.5" fill="#7a08ff" fill-opacity="1"/>
</g>
<g filter="url(#soft)">
<rect x="192.84" y="273.5" width="15" height="47.2" fill="#222222"/>
<path d="M200.3,309.7 Q200.5,315.7 201.0,320.7" stroke="#b0b0b0" stroke-width="1.3" fill="none"/>
<path d="M192.0,309.7 L195.5,307.2 M208.6,309.7 L205.1,307.2" stroke="#a8a8a8" stroke-width="1.2" fill="none"/>
<path d="M200.3,274.7 C201.7,274.7 204.0,283.1 204.7,287.7 C205.5,289.8 207.1,290.5 207.1,294.9 C207.4,301.7 207.1,307.1 205.2,309.6 Q200.3,311.8 195.4,309.6 C193.5,307.1 193.3,301.7 193.5,294.9 C193.5,290.5 195.2,289.8 196.0,287.7 C196.6,283.1 199.0,274.7 200.3,274.7Z" fill="#e2e2e2"/>
<path d="M200.3,275.2 L203.8,287.3 L196.9,287.3Z" fill="#f2f2f2"/>
<ellipse cx="196.0" cy="286.1" rx="1.4" ry="1.4" fill="#c4c4c4"/>
<ellipse cx="204.7" cy="286.1" rx="1.4" ry="1.4" fill="#c4c4c4"/>
<ellipse cx="199.8" cy="303.0" rx="6.6" ry="6.6" fill="#c8b0ff" fill-opacity="0.9"/>
<ellipse cx="203.8" cy="300.0" rx="3.6" ry="3.6" fill="#c8b0ff" fill-opacity="0.9"/>
<ellipse cx="199.8" cy="303.0" rx="5.5" ry="5.5" fill="#7a08ff" fill-opacity="1"/>
<ellipse cx="203.8" cy="300.0" rx="2.5" ry="2.5" fill="#7a08ff" fill-opacity="1"/>
</g>
<g filter="url(#soft)">
<rect x="212.57" y="273.5" width="15" height="47.2" fill="#222222"/>
<path d="M220.1,308.7 Q220.4,315.2 221.6,320.7" stroke="#b0b0b0" stroke-width="1.3" fill="none"/>
<path d="M211.8,308.7 L215.3,306.2 M228.4,308.7 L224.9,306.2" stroke="#a8a8a8" stroke-width="1.2" fill="none"/>
<path d="M220.1,274.7 C221.4,274.7 223.8,282.9 224.4,287.3 C225.2,289.4 226.9,290.1 226.9,294.3 C227.1,300.9 226.9,306.2 225.0,308.6 Q220.1,310.8 215.2,308.6 C213.3,306.2 213.0,300.9 213.3,294.3 C213.3,290.1 214.9,289.4 215.7,287.3 C216.4,282.9 218.7,274.7 220.1,274.7Z" fill="#e2e2e2"/>
<path d="M220.1,275.2 L223.6,286.9 L216.6,286.9Z" fill="#f2f2f2"/>
<ellipse cx="215.7" cy="285.8" rx="1.4" ry="1.4" fill="#c4c4c4"/>
<ellipse cx="224.4" cy="285.8" rx="1.4" ry="1.4" fill="#c4c4c4"/>
<ellipse cx="220.2" cy="301.0" rx="4.1" ry="4.1" fill="#c8b0ff" fill-opacity="0.9"/>
<ellipse cx="220.2" cy="301.0" rx="3.0" ry="3.0" fill="#7a08ff" fill-opacity="1"/>
</g>
<g filter="url(#soft)">
<rect x="232.3" y="273.5" width="15" height="47.2" fill="#222222"/>
<path d="M239.8,310.7 Q239.4,316.2 237.7,320.7" stroke="#b0b0b0" stroke-width="1.3" fill="none"/>
<path d="M231.5,310.7 L235.0,308.2 M248.1,310.7 L244.6,308.2" stroke="#a8a8a8" stroke-width="1.2" fill="none"/>
<path d="M239.8,274.7 C241.2,274.7 243.5,283.4 244.2,288.0 C245.0,290.2 246.6,291.0 246.6,295.4 C246.9,302.4 246.6,308.0 244.7,310.6 Q239.8,312.8 234.9,310.6 C233.0,308.0 232.7,302.4 233.0,295.4 C233.0,291.0 234.6,290.2 235.4,288.0 C236.1,283.4 238.4,274.7 239.8,274.7Z" fill="#e2e2e2"/>
<path d="M239.8,275.2 L243.3,287.6 L236.3,287.6Z" fill="#f2f2f2"/>
<ellipse cx="235.4" cy="286.4" rx="1.4" ry="1.5" fill="#c4c4c4"/>
<ellipse cx="244.2" cy="286.4" rx="1.4" ry="1.5" fill="#c4c4c4"/>
<ellipse cx="239.6" cy="306.5" rx="5.6" ry="5.1" fill="#c8b0ff" fill-opacity="0.9"/>
<ellipse cx="239.6" cy="306.5" rx="4.5" ry="4.0" fill="#7a08ff" fill-opacity="1"/>
</g>
<g filter="url(#soft)">
<rect x="252.03" y="273.5" width="15" height="47.2" fill="#222222"/>
<path d="M259.5,310.7 Q259.9,316.2 261.3,320.7" stroke="#b0b0b0" stroke-width="1.3" fill="none"/>
<path d="M251.2,310.7 L254.7,308.2 M267.8,310.7 L264.3,308.2" stroke="#a8a8a8" stroke-width="1.2" fill="none"/>
<path d="M259.5,274.7 C260.9,274.7 263.2,283.4 263.9,288.0 C264.7,290.2 266.3,291.0 266.3,295.4 C266.6,302.4 266.3,308.0 264.4,310.6 Q259.5,312.8 254.6,310.6 C252.7,308.0 252.5,302.4 252.7,295.4 C252.7,291.0 254.4,290.2 255.2,288.0 C255.8,283.4 258.2,274.7 259.5,274.7Z" fill="#e2e2e2"/>
<path d="M259.5,275.2 L263.0,287.6 L256.0,287.6Z" fill="#f2f2f2"/>
<ellipse cx="255.2" cy="286.4" rx="1.4" ry="1.5" fill="#c4c4c4"/>
<ellipse cx="263.9" cy="286.4" rx="1.4" ry="1.5" fill="#c4c4c4"/>
<ellipse cx="261.0" cy="308.4" rx="4.1" ry="4.1" fill="#c8b0ff" fill-opacity="0.9"/>
<ellipse cx="261.0" cy="308.4" rx="3.0" ry="3.0" fill="#7a08ff" fill-opacity="1"/>
</g>
<g filter="url(#soft)">
<rect x="35.0" y="333.6" width="15" height="46" fill="#222222"/>
<path d="M42.5,369.8 Q42.1,375.2 40.3,379.6" stroke="#b0b0b0" stroke-width="1.3" fill="none"/>
<path d="M34.6,369.8 L38.1,367.3 M50.4,369.8 L46.9,367.3" stroke="#a8a8a8" stroke-width="1.2" fill="none"/>
<path d="M42.5,334.8 C43.8,334.8 46.0,343.9 46.6,348.8 C47.4,351.0 48.9,351.7 48.9,356.0 C49.2,361.8 48.9,367.2 47.1,369.7 Q42.5,371.9 37.9,369.7 C36.1,367.2 35.8,361.8 36.1,356.0 C36.1,351.7 37.6,351.0 38.4,348.8 C39.0,343.9 41.2,334.8 42.5,334.8Z" fill="#e2e2e2"/>
<path d="M42.5,335.3 L45.8,348.4 L39.2,348.4Z" fill="#f2f2f2"/>
<ellipse cx="38.4" cy="347.1" rx="1.3" ry="1.4" fill="#c4c4c4"/>
<ellipse cx="46.6" cy="347.1" rx="1.3" ry="1.4" fill="#c4c4c4"/>
<path d="M35.6,350.8 Q35.6,348.8 37.6,348.8 L47.4,348.8 Q49.4,348.8 49.4,350.8 L49.4,362.4 C49.4,367.4 46.0,369.6 42.5,369.6 C39.0,369.6 35.6,367.4 35.6,362.4Z" fill="#7412ff" fill-opacity="1"/>
<ellipse cx="42.5" cy="359.2" rx="5.9" ry="8.9" fill="#2c1cff"/>
<ellipse cx="42.5" cy="359.2" rx="2.8" ry="4.2" fill="#10c0ff"/>
</g>
<g filter="url(#soft)">
<rect x="54.730000000000004" y="333.6" width="15" height="46" fill="#222222"/>
<path d="M62.2,367.8 Q62.6,374.2 64.0,379.6" stroke="#b0b0b0" stroke-width="1.3" fill="none"/>
<path d="M54.3,367.8 L57.8,365.3 M70.1,367.8 L66.6,365.3" stroke="#a8a8a8" stroke-width="1.2" fill="none"/>
<path d="M62.2,334.8 C63.5,334.8 65.7,342.4 66.3,346.5 C67.1,348.5 68.6,349.2 68.6,353.3 C68.9,360.3 68.6,365.4 66.8,367.8 Q62.2,369.8 57.6,367.8 C55.8,365.4 55.6,360.3 55.8,353.3 C55.8,349.2 57.4,348.5 58.1,346.5 C58.7,342.4 61.0,334.8 62.2,334.8Z" fill="#e2e2e2"/>
<path d="M62.2,335.3 L65.5,346.1 L59.0,346.1Z" fill="#f2f2f2"/>
<ellipse cx="58.1" cy="345.1" rx="1.3" ry="1.4" fill="#c4c4c4"/>
<ellipse cx="66.3" cy="345.1" rx="1.3" ry="1.4" fill="#c4c4c4"/>
<path d="M55.6,348.5 Q55.6,346.5 57.6,346.5 L66.8,346.5 Q68.8,346.5 68.8,348.5 L68.8,358.0 C68.8,362.8 65.5,364.9 62.2,364.9 C58.9,364.9 55.6,362.8 55.6,358.0Z" fill="#7412ff" fill-opacity="1"/>
<rect x="56.230000000000004" y="352.6" width="12" height="1.6" fill="#d8c8f8"/>
</g>
<g filter="url(#soft)">
<rect x="74.46000000000001" y="333.6" width="15" height="46" fill="#222222"/>
<path d="M82.0,375.8 Q81.9,378.2 81.7,379.6" stroke="#b0b0b0" stroke-width="1.3" fill="none"/>
<path d="M74.1,375.8 L77.6,373.3 M89.9,375.8 L86.4,373.3" stroke="#a8a8a8" stroke-width="1.2" fill="none"/>
<path d="M82.0,334.8 C83.2,334.8 85.4,343.1 86.1,347.5 C86.8,350.0 88.4,350.9 88.4,355.9 C88.6,366.3 88.4,372.6 86.6,375.5 Q82.0,378.1 77.4,375.5 C75.6,372.6 75.3,366.3 75.6,355.9 C75.6,350.9 77.1,350.0 77.9,347.5 C78.5,343.1 80.7,334.8 82.0,334.8Z" fill="#e2e2e2"/>
<path d="M82.0,335.3 L85.2,347.1 L78.7,347.1Z" fill="#f2f2f2"/>
<ellipse cx="77.9" cy="346.0" rx="1.3" ry="1.7" fill="#c4c4c4"/>
<ellipse cx="86.1" cy="346.0" rx="1.3" ry="1.7" fill="#c4c4c4"/>
<path d="M75.0,349.5 Q75.0,347.5 77.0,347.5 L87.0,347.5 Q89.0,347.5 89.0,349.5 L89.0,369.1 C89.0,374.3 85.5,376.5 82.0,376.5 C78.5,376.5 75.0,374.3 75.0,369.1Z" fill="#7412ff" fill-opacity="1"/>
<ellipse cx="82.0" cy="362.0" rx="2.4" ry="5.1" fill="#2c1cff"/>
</g>
<g filter="url(#soft)">
<rect x="94.19" y="333.6" width="15" height="46" fill="#222222"/>
<path d="M101.7,371.8 Q101.5,376.2 100.9,379.6" stroke="#b0b0b0" stroke-width="1.3" fill="none"/>
<path d="M93.8,371.8 L97.3,369.3 M109.6,371.8 L106.1,369.3" stroke="#a8a8a8" stroke-width="1.2" fill="none"/>
<path d="M101.7,334.8 C103.0,334.8 105.2,345.9 105.8,351.9 C106.6,354.2 108.1,354.9 108.1,359.5 C108.3,363.3 108.1,369.0 106.3,371.7 Q101.7,373.9 97.1,371.7 C95.3,369.0 95.0,363.3 95.3,359.5 C95.3,354.9 96.8,354.2 97.6,351.9 C98.2,345.9 100.4,334.8 101.7,334.8Z" fill="#e2e2e2"/>
<path d="M101.7,335.3 L105.0,351.4 L98.4,351.4Z" fill="#f2f2f2"/>
<ellipse cx="97.6" cy="349.8" rx="1.3" ry="1.5" fill="#c4c4c4"/>
<ellipse cx="105.8" cy="349.8" rx="1.3" ry="1.5" fill="#c4c4c4"/>
<ellipse cx="101.7" cy="363.8" rx="7.5" ry="9.5" fill="#c8b0ff" fill-opacity="0.9"/>
<path d="M95.7,357.8 Q95.7,355.8 97.7,355.8 L105.7,355.8 Q107.7,355.8 107.7,357.8 L107.7,365.5 C107.7,369.9 104.7,371.8 101.7,371.8 C98.7,371.8 95.7,369.9 95.7,365.5Z" fill="#7412ff" fill-opacity="1"/>
</g>
<g filter="url(#soft)">
<rect x="113.92" y="333.6" width="15" height="46" fill="#222222"/>
<path d="M121.4,371.8 Q121.5,376.2 121.7,379.6" stroke="#b0b0b0" stroke-width="1.3" fill="none"/>
<path d="M113.5,371.8 L117.0,369.3 M129.3,371.8 L125.8,369.3" stroke="#a8a8a8" stroke-width="1.2" fill="none"/>
<path d="M121.4,334.8 C122.7,334.8 124.9,343.7 125.5,348.5 C126.3,350.8 127.8,351.5 127.8,356.1 C128.1,363.3 127.8,369.0 126.0,371.7 Q121.4,373.9 116.8,371.7 C115.0,369.0 114.8,363.3 115.0,356.1 C115.0,351.5 116.6,350.8 117.3,348.5 C117.9,343.7 120.1,334.8 121.4,334.8Z" fill="#e2e2e2"/>
<path d="M121.4,335.3 L124.7,348.1 L118.1,348.1Z" fill="#f2f2f2"/>
<ellipse cx="117.3" cy="346.8" rx="1.3" ry="1.5" fill="#c4c4c4"/>
<ellipse cx="125.5" cy="346.8" rx="1.3" ry="1.5" fill="#c4c4c4"/>
<ellipse cx="121.4" cy="360.3" rx="7.5" ry="5.0" fill="#c8b0ff" fill-opacity="0.9"/>
<ellipse cx="121.4" cy="360.3" rx="6.0" ry="3.3" fill="#7412ff"/>
</g>
<g filter="url(#soft)">
<rect x="133.65" y="333.6" width="15" height="46" fill="#222222"/>
<path d="M141.2,371.8 Q141.6,376.2 143.3,379.6" stroke="#b0b0b0" stroke-width="1.3" fill="none"/>
<path d="M133.2,371.8 L136.8,369.3 M149.1,371.8 L145.6,369.3" stroke="#a8a8a8" stroke-width="1.2" fill="none"/>
<path d="M141.2,334.8 C142.4,334.8 144.6,343.7 145.2,348.5 C146.0,350.8 147.6,351.5 147.6,356.1 C147.8,363.3 147.6,369.0 145.8,371.7 Q141.2,373.9 136.5,371.7 C134.8,369.0 134.5,363.3 134.8,356.1 C134.8,351.5 136.3,350.8 137.1,348.5 C137.7,343.7 139.9,334.8 141.2,334.8Z" fill="#e2e2e2"/>
<path d="M141.2,335.3 L144.4,348.1 L137.9,348.1Z" fill="#f2f2f2"/>
<ellipse cx="137.1" cy="346.8" rx="1.3" ry="1.5" fill="#c4c4c4"/>
<ellipse cx="145.2" cy="346.8" rx="1.3" ry="1.5" fill="#c4c4c4"/>
<ellipse cx="141.2" cy="360.3" rx="7.0" ry="7.5" fill="#c8b0ff" fill-opacity="0.9"/>
<ellipse cx="141.2" cy="360.3" rx="5.5" ry="6.0" fill="#7412ff"/>
</g>
<g filter="url(#soft)">
<rect x="153.38" y="333.6" width="15" height="46" fill="#222222"/>
<path d="M160.9,375.8 Q160.6,378.2 159.7,379.6" stroke="#b0b0b0" stroke-width="1.3" fill="none"/>
<path d="M153.0,375.8 L156.5,373.3 M168.8,375.8 L165.3,373.3" stroke="#a8a8a8" stroke-width="1.2" fill="none"/>
<path d="M160.9,334.8 C162.2,334.8 164.4,344.6 165.0,349.9 C165.7,352.4 167.3,353.3 167.3,358.3 C167.5,366.3 167.3,372.6 165.5,375.5 Q160.9,378.1 156.3,375.5 C154.5,372.6 154.2,366.3 154.5,358.3 C154.5,353.3 156.0,352.4 156.8,349.9 C157.4,344.6 159.6,334.8 160.9,334.8Z" fill="#e2e2e2"/>
<path d="M160.9,335.3 L164.2,349.5 L157.6,349.5Z" fill="#f2f2f2"/>
<ellipse cx="156.8" cy="348.1" rx="1.3" ry="1.7" fill="#c4c4c4"/>
<ellipse cx="165.0" cy="348.1" rx="1.3" ry="1.7" fill="#c4c4c4"/>
<ellipse cx="160.9" cy="360.3" rx="5.5" ry="2.4" fill="#7412ff"/>
</g>
<g filter="url(#soft)">
<rect x="173.11" y="333.6" width="15" height="46" fill="#222222"/>
<path d="M180.6,367.8 Q180.2,374.2 178.8,379.6" stroke="#b0b0b0" stroke-width="1.3" fill="none"/>
<path d="M172.7,367.8 L176.2,365.3 M188.5,367.8 L185.0,365.3" stroke="#a8a8a8" stroke-width="1.2" fill="none"/>
<path d="M180.6,334.8 C181.9,334.8 184.1,344.7 184.7,350.0 C185.5,352.0 187.0,352.7 187.0,356.8 C187.3,360.3 187.0,365.4 185.2,367.8 Q180.6,369.8 176.0,367.8 C174.2,365.4 174.0,360.3 174.2,356.8 C174.2,352.7 175.7,352.0 176.5,350.0 C177.1,344.7 179.3,334.8 180.6,334.8Z" fill="#e2e2e2"/>
<path d="M180.6,335.3 L183.9,349.5 L177.3,349.5Z" fill="#f2f2f2"/>
<ellipse cx="176.5" cy="348.2" rx="1.3" ry="1.4" fill="#c4c4c4"/>
<ellipse cx="184.7" cy="348.2" rx="1.3" ry="1.4" fill="#c4c4c4"/>
<path d="M173.9,352.0 Q173.9,350.0 175.9,350.0 L185.3,350.0 Q187.3,350.0 187.3,352.0 L187.3,359.0 C187.3,363.9 184.0,366.0 180.6,366.0 C177.3,366.0 173.9,363.9 173.9,359.0Z" fill="#7412ff" fill-opacity="1"/>
</g>
<g filter="url(#soft)">
<rect x="192.84" y="333.6" width="15" height="46" fill="#222222"/>
<path d="M200.3,370.8 Q200.4,375.7 200.5,379.6" stroke="#b0b0b0" stroke-width="1.3" fill="none"/>
<path d="M192.4,370.8 L195.9,368.3 M208.2,370.8 L204.7,368.3" stroke="#a8a8a8" stroke-width="1.2" fill="none"/>
<path d="M200.3,334.8 C201.6,334.8 203.8,342.1 204.4,346.0 C205.2,348.2 206.7,349.0 206.7,353.4 C207.0,362.6 206.7,368.1 204.9,370.7 Q200.3,372.9 195.7,370.7 C193.9,368.1 193.7,362.6 193.9,353.4 C193.9,349.0 195.5,348.2 196.2,346.0 C196.9,342.1 199.1,334.8 200.3,334.8Z" fill="#e2e2e2"/>
<path d="M200.3,335.3 L203.6,345.7 L197.1,345.7Z" fill="#f2f2f2"/>
<ellipse cx="196.2" cy="344.7" rx="1.3" ry="1.5" fill="#c4c4c4"/>
<ellipse cx="204.4" cy="344.7" rx="1.3" ry="1.5" fill="#c4c4c4"/>
<path d="M193.4,348.0 Q193.4,346.0 195.4,346.0 L205.2,346.0 Q207.2,346.0 207.2,348.0 L207.2,363.4 C207.2,368.4 203.8,370.6 200.3,370.6 C196.9,370.6 193.4,368.4 193.4,363.4Z" fill="#7412ff" fill-opacity="1"/>
<ellipse cx="200.3" cy="358.3" rx="4.8" ry="8.6" fill="#2c1cff"/>
<ellipse cx="200.3" cy="358.3" rx="2.4" ry="4.3" fill="#10c0ff"/>
</g>
<g filter="url(#soft)">
<rect x="212.57" y="333.6" width="15" height="46" fill="#24183a"/>
<path d="M220.1,371.8 Q219.8,376.2 218.8,379.6" stroke="#b0b0b0" stroke-width="1.3" fill="none"/>
<path d="M212.2,371.8 L215.7,369.3 M228.0,371.8 L224.5,369.3" stroke="#a8a8a8" stroke-width="1.2" fill="none"/>
<path d="M220.1,334.8 C221.3,334.8 223.6,341.2 224.2,344.7 C224.9,347.0 226.5,347.7 226.5,352.3 C226.7,363.3 226.5,369.0 224.7,371.7 Q220.1,373.9 215.5,371.7 C213.7,369.0 213.4,363.3 213.7,352.3 C213.7,347.7 215.2,347.0 216.0,344.7 C216.6,341.2 218.8,334.8 220.1,334.8Z" fill="#e2e2e2"/>
<path d="M220.1,335.3 L223.3,344.4 L216.8,344.4Z" fill="#f2f2f2"/>
<ellipse cx="216.0" cy="343.5" rx="1.3" ry="1.5" fill="#c4c4c4"/>
<ellipse cx="224.2" cy="343.5" rx="1.3" ry="1.5" fill="#c4c4c4"/>
<path d="M212.8,345.5 Q212.8,343.5 214.8,343.5 L225.4,343.5 Q227.4,343.5 227.4,345.5 L227.4,362.8 C227.4,368.2 223.7,370.5 220.1,370.5 C216.4,370.5 212.8,368.2 212.8,362.8Z" fill="#7412ff" fill-opacity="1"/>
<ellipse cx="220.1" cy="357.0" rx="4.5" ry="8.4" fill="#2c1cff"/>
<ellipse cx="220.1" cy="357.0" rx="2.6" ry="4.7" fill="#10c0ff"/>
</g>
<g filter="url(#soft)">
<rect x="232.3" y="333.6" width="15" height="46" fill="#24183a"/>
<path d="M239.8,372.8 Q239.4,376.7 237.8,379.6" stroke="#b0b0b0" stroke-width="1.3" fill="none"/>
<path d="M231.9,372.8 L235.4,370.3 M247.7,372.8 L244.2,370.3" stroke="#a8a8a8" stroke-width="1.2" fill="none"/>
<path d="M239.8,334.8 C241.1,334.8 243.3,342.4 243.9,346.5 C244.7,348.8 246.2,349.6 246.2,354.3 C246.5,364.1 246.2,369.9 244.4,372.6 Q239.8,375.0 235.2,372.6 C233.4,369.9 233.1,364.1 233.4,354.3 C233.4,349.6 234.9,348.8 235.7,346.5 C236.3,342.4 238.5,334.8 239.8,334.8Z" fill="#e2e2e2"/>
<path d="M239.8,335.3 L243.1,346.1 L236.5,346.1Z" fill="#f2f2f2"/>
<ellipse cx="235.7" cy="345.1" rx="1.3" ry="1.6" fill="#c4c4c4"/>
<ellipse cx="243.9" cy="345.1" rx="1.3" ry="1.6" fill="#c4c4c4"/>
<path d="M232.5,348.5 Q232.5,346.5 234.5,346.5 L245.1,346.5 Q247.1,346.5 247.1,348.5 L247.1,364.8 C247.1,370.2 243.5,372.5 239.8,372.5 C236.2,372.5 232.5,370.2 232.5,364.8Z" fill="#7412ff" fill-opacity="1"/>
<ellipse cx="239.8" cy="359.5" rx="5.1" ry="9.1" fill="#2c1cff"/>
<ellipse cx="239.8" cy="359.5" rx="3.6" ry="6.5" fill="#10c0ff"/>
<ellipse cx="239.8" cy="359.5" rx="2.2" ry="3.9" fill="#20ff80"/>
</g>
<g filter="url(#soft)">
<rect x="35.0" y="393.2" width="15" height="46.8" fill="#222222"/>
<path d="M42.5,427.4 Q42.2,434.2 40.8,440.0" stroke="#b0b0b0" stroke-width="1.3" fill="none"/>
<path d="M34.6,427.4 L38.1,424.9 M50.4,427.4 L46.9,424.9" stroke="#a8a8a8" stroke-width="1.2" fill="none"/>
<path d="M42.5,394.4 C43.8,394.4 46.0,403.0 46.6,407.6 C47.4,409.6 48.9,410.3 48.9,414.4 C49.2,419.9 48.9,425.0 47.1,427.4 Q42.5,429.4 37.9,427.4 C36.1,425.0 35.8,419.9 36.1,414.4 C36.1,410.3 37.6,409.6 38.4,407.6 C39.0,403.0 41.2,394.4 42.5,394.4Z" fill="#e2e2e2"/>
<path d="M42.5,394.9 L45.8,407.2 L39.2,407.2Z" fill="#f2f2f2"/>
<ellipse cx="38.4" cy="406.0" rx="1.3" ry="1.4" fill="#c4c4c4"/>
<ellipse cx="46.6" cy="406.0" rx="1.3" ry="1.4" fill="#c4c4c4"/>
<path d="M35.6,409.6 Q35.6,407.6 37.6,407.6 L47.4,407.6 Q49.4,407.6 49.4,409.6 L49.4,418.8 C49.4,423.8 46.0,426.0 42.5,426.0 C39.0,426.0 35.6,423.8 35.6,418.8Z" fill="#7412ff" fill-opacity="1"/>
<ellipse cx="42.5" cy="416.8" rx="5.9" ry="7.9" fill="#2c1cff"/>
<ellipse cx="42.5" cy="416.8" rx="2.1" ry="2.8" fill="#10c0ff"/>
</g>
<g filter="url(#soft)">
<rect x="54.730000000000004" y="393.2" width="15" height="46.8" fill="#222222"/>
<path d="M62.2,428.4 Q61.8,434.7 60.0,440.0" stroke="#b0b0b0" stroke-width="1.3" fill="none"/>
<path d="M54.3,428.4 L57.8,425.9 M70.1,428.4 L66.6,425.9" stroke="#a8a8a8" stroke-width="1.2" fill="none"/>
<path d="M62.2,394.4 C63.5,394.4 65.7,403.8 66.3,408.8 C67.1,410.9 68.6,411.6 68.6,415.8 C68.9,420.6 68.6,425.9 66.8,428.3 Q62.2,430.4 57.6,428.3 C55.8,425.9 55.6,420.6 55.8,415.8 C55.8,411.6 57.4,410.9 58.1,408.8 C58.7,403.8 61.0,394.4 62.2,394.4Z" fill="#e2e2e2"/>
<path d="M62.2,394.9 L65.5,408.4 L59.0,408.4Z" fill="#f2f2f2"/>
<ellipse cx="58.1" cy="407.1" rx="1.3" ry="1.4" fill="#c4c4c4"/>
<ellipse cx="66.3" cy="407.1" rx="1.3" ry="1.4" fill="#c4c4c4"/>
<path d="M55.3,410.8 Q55.3,408.8 57.3,408.8 L67.1,408.8 Q69.1,408.8 69.1,410.8 L69.1,421.2 C69.1,426.2 65.7,428.4 62.2,428.4 C58.8,428.4 55.3,426.2 55.3,421.2Z" fill="#7412ff" fill-opacity="1"/>
<ellipse cx="62.2" cy="418.6" rx="2.4" ry="3.4" fill="#2c1cff"/>
</g>
<g filter="url(#soft)">
<rect x="74.46000000000001" y="393.2" width="15" height="46.8" fill="#222222"/>
<path d="M82.0,432.4 Q81.7,436.7 80.5,440.0" stroke="#b0b0b0" stroke-width="1.3" fill="none"/>
<path d="M74.1,432.4 L77.6,429.9 M89.9,432.4 L86.4,429.9" stroke="#a8a8a8" stroke-width="1.2" fill="none"/>
<path d="M82.0,394.4 C83.2,394.4 85.4,405.8 86.1,411.9 C86.8,414.3 88.4,415.1 88.4,419.8 C88.6,423.6 88.4,429.5 86.6,432.2 Q82.0,434.6 77.4,432.2 C75.6,429.5 75.3,423.6 75.6,419.8 C75.6,415.1 77.1,414.3 77.9,411.9 C78.5,405.8 80.7,394.4 82.0,394.4Z" fill="#e2e2e2"/>
<path d="M82.0,394.9 L85.2,411.4 L78.7,411.4Z" fill="#f2f2f2"/>
<ellipse cx="77.9" cy="409.8" rx="1.3" ry="1.6" fill="#c4c4c4"/>
<ellipse cx="86.1" cy="409.8" rx="1.3" ry="1.6" fill="#c4c4c4"/>
<path d="M75.4,414.0 Q75.4,412.0 77.4,412.0 L86.6,412.0 Q88.6,412.0 88.6,414.0 L88.6,425.1 C88.6,429.9 85.3,432.0 82.0,432.0 C78.7,432.0 75.4,429.9 75.4,425.1Z" fill="#7412ff" fill-opacity="1"/>
</g>
<g filter="url(#soft)">
<rect x="94.19" y="393.2" width="15" height="46.8" fill="#222222"/>
<path d="M101.7,430.4 Q101.5,435.7 100.7,440.0" stroke="#b0b0b0" stroke-width="1.3" fill="none"/>
<path d="M93.8,430.4 L97.3,427.9 M109.6,430.4 L106.1,427.9" stroke="#a8a8a8" stroke-width="1.2" fill="none"/>
<path d="M101.7,394.4 C103.0,394.4 105.2,405.2 105.8,411.0 C106.6,413.3 108.1,414.0 108.1,418.4 C108.3,422.1 108.1,427.7 106.3,430.3 Q101.7,432.5 97.1,430.3 C95.3,427.7 95.0,422.1 95.3,418.4 C95.3,414.0 96.8,413.3 97.6,411.0 C98.2,405.2 100.4,394.4 101.7,394.4Z" fill="#e2e2e2"/>
<path d="M101.7,394.9 L105.0,410.6 L98.4,410.6Z" fill="#f2f2f2"/>
<ellipse cx="97.6" cy="409.1" rx="1.3" ry="1.5" fill="#c4c4c4"/>
<ellipse cx="105.8" cy="409.1" rx="1.3" ry="1.5" fill="#c4c4c4"/>
<path d="M95.1,415.0 Q95.1,413.0 97.1,413.0 L106.3,413.0 Q108.3,413.0 108.3,415.0 L108.3,422.7 C108.3,427.5 105.0,429.6 101.7,429.6 C98.4,429.6 95.1,427.5 95.1,422.7Z" fill="#7412ff" fill-opacity="1"/>
<rect x="95.69" y="411.6" width="12" height="1.8" fill="#d8c8f8"/>
</g>
<g filter="url(#soft)">
<rect x="113.92" y="393.2" width="15" height="46.8" fill="#222222"/>
<path d="M121.4,434.4 Q121.2,437.7 120.4,440.0" stroke="#b0b0b0" stroke-width="1.3" fill="none"/>
<path d="M113.5,434.4 L117.0,431.9 M129.3,434.4 L125.8,431.9" stroke="#a8a8a8" stroke-width="1.2" fill="none"/>
<path d="M121.4,394.4 C122.7,394.4 124.9,406.4 125.5,412.8 C126.3,415.3 127.8,416.1 127.8,421.0 C128.1,425.1 127.8,431.3 126.0,434.2 Q121.4,436.6 116.8,434.2 C115.0,431.3 114.8,425.1 115.0,421.0 C115.0,416.1 116.6,415.3 117.3,412.8 C117.9,406.4 120.1,394.4 121.4,394.4Z" fill="#e2e2e2"/>
<path d="M121.4,394.9 L124.7,412.3 L118.1,412.3Z" fill="#f2f2f2"/>
<ellipse cx="117.3" cy="410.6" rx="1.3" ry="1.6" fill="#c4c4c4"/>
<ellipse cx="125.5" cy="410.6" rx="1.3" ry="1.6" fill="#c4c4c4"/>
<path d="M114.5,415.4 Q114.5,413.4 116.5,413.4 L126.3,413.4 Q128.3,413.4 128.3,415.4 L128.3,426.8 C128.3,431.8 124.9,434.0 121.4,434.0 C118.0,434.0 114.5,431.8 114.5,426.8Z" fill="#7412ff" fill-opacity="1"/>
<ellipse cx="121.5" cy="428.0" rx="1.6" ry="1.6" fill="#2c1cff" fill-opacity="1"/>
</g>
<g filter="url(#soft)">
<rect x="133.65" y="393.2" width="15" height="46.8" fill="#222222"/>
<path d="M141.2,431.4 Q141.4,436.2 142.4,440.0" stroke="#b0b0b0" stroke-width="1.3" fill="none"/>
<path d="M133.2,431.4 L136.8,428.9 M149.1,431.4 L145.6,428.9" stroke="#a8a8a8" stroke-width="1.2" fill="none"/>
<path d="M141.2,394.4 C142.4,394.4 144.6,405.2 145.2,411.0 C146.0,413.3 147.6,414.0 147.6,418.6 C147.8,422.9 147.6,428.6 145.8,431.3 Q141.2,433.5 136.5,431.3 C134.8,428.6 134.5,422.9 134.8,418.6 C134.8,414.0 136.3,413.3 137.1,411.0 C137.7,405.2 139.9,394.4 141.2,394.4Z" fill="#e2e2e2"/>
<path d="M141.2,394.9 L144.4,410.5 L137.9,410.5Z" fill="#f2f2f2"/>
<ellipse cx="137.1" cy="409.0" rx="1.3" ry="1.5" fill="#c4c4c4"/>
<ellipse cx="145.2" cy="409.0" rx="1.3" ry="1.5" fill="#c4c4c4"/>
<path d="M134.2,413.0 Q134.2,411.0 136.2,411.0 L146.1,411.0 Q148.1,411.0 148.1,413.0 L148.1,423.8 C148.1,428.8 144.6,431.0 141.2,431.0 C137.7,431.0 134.2,428.8 134.2,423.8Z" fill="#7412ff" fill-opacity="1"/>
<ellipse cx="141.2" cy="421.0" rx="2.4" ry="3.5" fill="#2c1cff"/>
</g>
<g filter="url(#soft)">
<rect x="153.38" y="393.2" width="15" height="46.8" fill="#222222"/>
<path d="M160.9,433.4 Q160.7,437.2 159.8,440.0" stroke="#b0b0b0" stroke-width="1.3" fill="none"/>
<path d="M153.0,433.4 L156.5,430.9 M168.8,433.4 L165.3,430.9" stroke="#a8a8a8" stroke-width="1.2" fill="none"/>
<path d="M160.9,394.4 C162.2,394.4 164.4,404.5 165.0,410.0 C165.7,412.4 167.3,413.2 167.3,418.0 C167.5,424.4 167.3,430.4 165.5,433.2 Q160.9,435.6 156.3,433.2 C154.5,430.4 154.2,424.4 154.5,418.0 C154.5,413.2 156.0,412.4 156.8,410.0 C157.4,404.5 159.6,394.4 160.9,394.4Z" fill="#e2e2e2"/>
<path d="M160.9,394.9 L164.2,409.5 L157.6,409.5Z" fill="#f2f2f2"/>
<ellipse cx="156.8" cy="408.1" rx="1.3" ry="1.6" fill="#c4c4c4"/>
<ellipse cx="165.0" cy="408.1" rx="1.3" ry="1.6" fill="#c4c4c4"/>
<path d="M153.0,412.0 Q153.0,410.0 155.0,410.0 L164.8,410.0 Q166.8,410.0 166.8,412.0 L166.8,425.8 C166.8,430.8 163.3,433.0 159.9,433.0 C156.4,433.0 153.0,430.8 153.0,425.8Z" fill="#7412ff" fill-opacity="1"/>
<ellipse cx="159.9" cy="421.5" rx="2.1" ry="3.4" fill="#2c1cff"/>
</g>
<g filter="url(#soft)">
<rect x="173.11" y="393.2" width="15" height="46.8" fill="#222222"/>
<path d="M180.6,426.4 Q180.6,433.7 180.6,440.0" stroke="#b0b0b0" stroke-width="1.3" fill="none"/>
<path d="M172.7,426.4 L176.2,423.9 M188.5,426.4 L185.0,423.9" stroke="#a8a8a8" stroke-width="1.2" fill="none"/>
<path d="M180.6,394.4 C181.9,394.4 184.1,403.0 184.7,407.6 C185.5,409.6 187.0,410.2 187.0,414.2 C187.3,419.1 187.0,424.1 185.2,426.4 Q180.6,428.4 176.0,426.4 C174.2,424.1 174.0,419.1 174.2,414.2 C174.2,410.2 175.7,409.6 176.5,407.6 C177.1,403.0 179.3,394.4 180.6,394.4Z" fill="#e2e2e2"/>
<path d="M180.6,394.9 L183.9,407.2 L177.3,407.2Z" fill="#f2f2f2"/>
<ellipse cx="176.5" cy="406.0" rx="1.3" ry="1.3" fill="#c4c4c4"/>
<ellipse cx="184.7" cy="406.0" rx="1.3" ry="1.3" fill="#c4c4c4"/>
<path d="M173.9,409.6 Q173.9,407.6 175.9,407.6 L185.3,407.6 Q187.3,407.6 187.3,409.6 L187.3,418.0 C187.3,422.9 184.0,425.0 180.6,425.0 C177.3,425.0 173.9,422.9 173.9,418.0Z" fill="#7412ff" fill-opacity="1"/>
<ellipse cx="180.6" cy="416.3" rx="4.7" ry="6.1" fill="#2c1cff"/>
<ellipse cx="180.6" cy="416.3" rx="2.0" ry="2.6" fill="#10c0ff"/>
</g>
<g filter="url(#soft)">
<rect x="192.84" y="393.2" width="15" height="46.8" fill="#222222"/>
<path d="M200.3,426.4 Q200.0,433.7 198.7,440.0" stroke="#b0b0b0" stroke-width="1.3" fill="none"/>
<path d="M192.4,426.4 L195.9,423.9 M208.2,426.4 L204.7,423.9" stroke="#a8a8a8" stroke-width="1.2" fill="none"/>
<path d="M200.3,394.4 C201.6,394.4 203.8,404.1 204.4,409.2 C205.2,411.2 206.7,411.9 206.7,415.8 C207.0,419.1 206.7,424.1 204.9,426.4 Q200.3,428.4 195.7,426.4 C193.9,424.1 193.7,419.1 193.9,415.8 C193.9,411.9 195.5,411.2 196.2,409.2 C196.9,404.1 199.1,394.4 200.3,394.4Z" fill="#e2e2e2"/>
<path d="M200.3,394.9 L203.6,408.8 L197.1,408.8Z" fill="#f2f2f2"/>
<ellipse cx="196.2" cy="407.5" rx="1.3" ry="1.3" fill="#c4c4c4"/>
<ellipse cx="204.4" cy="407.5" rx="1.3" ry="1.3" fill="#c4c4c4"/>
<path d="M193.6,411.7 Q193.6,409.7 195.6,409.7 L205.0,409.7 Q207.0,409.7 207.0,411.7 L207.0,419.3 C207.0,424.2 203.7,426.3 200.3,426.3 C197.0,426.3 193.6,424.2 193.6,419.3Z" fill="#7412ff" fill-opacity="1"/>
<ellipse cx="200.3" cy="418.0" rx="5.2" ry="6.5" fill="#2c1cff"/>
<ellipse cx="200.3" cy="418.0" rx="3.0" ry="3.7" fill="#10c0ff"/>
<ellipse cx="200.3" cy="418.0" rx="1.5" ry="1.8" fill="#20ff80"/>
</g>
<g filter="url(#soft)">
<rect x="212.57" y="393.2" width="15" height="46.8" fill="#5a24b8"/>
<path d="M220.1,431.4 Q219.9,436.2 219.3,440.0" stroke="#b0b0b0" stroke-width="1.3" fill="none"/>
<path d="M212.2,431.4 L215.7,428.9 M228.0,431.4 L224.5,428.9" stroke="#a8a8a8" stroke-width="1.2" fill="none"/>
<path d="M220.1,394.4 C221.3,394.4 223.6,400.8 224.2,404.3 C224.9,406.6 226.5,407.3 226.5,411.9 C226.7,422.9 226.5,428.6 224.7,431.3 Q220.1,433.5 215.5,431.3 C213.7,428.6 213.4,422.9 213.7,411.9 C213.7,407.3 215.2,406.6 216.0,404.3 C216.6,400.8 218.8,394.4 220.1,394.4Z" fill="#e2e2e2"/>
<path d="M220.1,394.9 L223.3,404.0 L216.8,404.0Z" fill="#f2f2f2"/>
<ellipse cx="216.0" cy="403.1" rx="1.3" ry="1.5" fill="#c4c4c4"/>
<ellipse cx="224.2" cy="403.1" rx="1.3" ry="1.5" fill="#c4c4c4"/>
<path d="M212.8,405.0 Q212.8,403.0 214.8,403.0 L225.4,403.0 Q227.4,403.0 227.4,405.0 L227.4,425.3 C227.4,430.7 223.7,433.0 220.1,433.0 C216.4,433.0 212.8,430.7 212.8,425.3Z" fill="#7412ff" fill-opacity="1"/>
<ellipse cx="220.1" cy="418.0" rx="4.4" ry="9.0" fill="#2c1cff"/>
<ellipse cx="220.1" cy="418.0" rx="2.8" ry="5.7" fill="#10c0ff"/>
<ellipse cx="220.1" cy="418.0" rx="1.5" ry="3.0" fill="#20ff80"/>
</g>
<g filter="url(#soft)">
<rect x="232.3" y="393.2" width="15" height="46.8" fill="#222222"/>
<path d="M239.8,436.4 Q239.3,438.7 237.4,440.0" stroke="#b0b0b0" stroke-width="1.3" fill="none"/>
<path d="M231.9,436.4 L235.4,433.9 M247.7,436.4 L244.2,433.9" stroke="#a8a8a8" stroke-width="1.2" fill="none"/>
<path d="M239.8,394.4 C241.1,394.4 243.3,404.5 243.9,410.0 C244.7,412.6 246.2,413.4 246.2,418.6 C246.5,426.6 246.2,433.1 244.4,436.1 Q239.8,438.7 235.2,436.1 C233.4,433.1 233.1,426.6 233.4,418.6 C233.4,413.4 234.9,412.6 235.7,410.0 C236.3,404.5 238.5,394.4 239.8,394.4Z" fill="#e2e2e2"/>
<path d="M239.8,394.9 L243.1,409.5 L236.5,409.5Z" fill="#f2f2f2"/>
<ellipse cx="235.7" cy="408.1" rx="1.3" ry="1.7" fill="#c4c4c4"/>
<ellipse cx="243.9" cy="408.1" rx="1.3" ry="1.7" fill="#c4c4c4"/>
<path d="M232.7,412.0 Q232.7,410.0 234.7,410.0 L244.9,410.0 Q246.9,410.0 246.9,412.0 L246.9,428.5 C246.9,433.8 243.4,436.0 239.8,436.0 C236.2,436.0 232.7,433.8 232.7,428.5Z" fill="#7412ff" fill-opacity="1"/>
<ellipse cx="239.8" cy="423.0" rx="5.5" ry="10.1" fill="#2c1cff"/>
<ellipse cx="239.8" cy="423.0" rx="3.5" ry="6.5" fill="#10c0ff"/>
<ellipse cx="239.8" cy="423.0" rx="2.1" ry="3.9" fill="#20ff80"/>
</g>
<g filter="url(#soft)">
<rect x="35.0" y="453.2" width="15" height="47" fill="#222222"/>
<path d="M42.5,485.4 Q42.3,493.3 41.3,500.2" stroke="#b0b0b0" stroke-width="1.3" fill="none"/>
<path d="M34.6,485.4 L38.1,482.9 M50.4,485.4 L46.9,482.9" stroke="#a8a8a8" stroke-width="1.2" fill="none"/>
<path d="M42.5,454.4 C43.8,454.4 46.0,463.5 46.6,468.4 C47.4,470.3 48.9,471.0 48.9,474.8 C49.2,478.4 48.9,483.2 47.1,485.4 Q42.5,487.4 37.9,485.4 C36.1,483.2 35.8,478.4 36.1,474.8 C36.1,471.0 37.6,470.3 38.4,468.4 C39.0,463.5 41.2,454.4 42.5,454.4Z" fill="#e2e2e2"/>
<path d="M42.5,454.9 L45.8,468.0 L39.2,468.0Z" fill="#f2f2f2"/>
<ellipse cx="38.4" cy="466.7" rx="1.3" ry="1.3" fill="#c4c4c4"/>
<ellipse cx="46.6" cy="466.7" rx="1.3" ry="1.3" fill="#c4c4c4"/>
<path d="M35.6,470.4 Q35.6,468.4 37.6,468.4 L47.4,468.4 Q49.4,468.4 49.4,470.4 L49.4,478.4 C49.4,483.4 46.0,485.6 42.5,485.6 C39.0,485.6 35.6,483.4 35.6,478.4Z" fill="#7412ff" fill-opacity="1"/>
<ellipse cx="42.5" cy="477.0" rx="5.9" ry="7.4" fill="#2c1cff"/>
<ellipse cx="42.5" cy="477.0" rx="4.0" ry="5.0" fill="#10c0ff"/>
<ellipse cx="42.5" cy="477.0" rx="1.5" ry="1.9" fill="#20ff80"/>
</g>
<g filter="url(#soft)">
<rect x="54.730000000000004" y="453.2" width="15" height="47" fill="#222222"/>
<path d="M62.2,486.4 Q61.7,493.8 59.8,500.2" stroke="#b0b0b0" stroke-width="1.3" fill="none"/>
<path d="M54.3,486.4 L57.8,483.9 M70.1,486.4 L66.6,483.9" stroke="#a8a8a8" stroke-width="1.2" fill="none"/>
<path d="M62.2,454.4 C63.5,454.4 65.7,463.2 66.3,468.0 C67.1,470.0 68.6,470.6 68.6,474.6 C68.9,479.1 68.6,484.1 66.8,486.4 Q62.2,488.4 57.6,486.4 C55.8,484.1 55.6,479.1 55.8,474.6 C55.8,470.6 57.4,470.0 58.1,468.0 C58.7,463.2 61.0,454.4 62.2,454.4Z" fill="#e2e2e2"/>
<path d="M62.2,454.9 L65.5,467.6 L59.0,467.6Z" fill="#f2f2f2"/>
<ellipse cx="58.1" cy="466.4" rx="1.3" ry="1.3" fill="#c4c4c4"/>
<ellipse cx="66.3" cy="466.4" rx="1.3" ry="1.3" fill="#c4c4c4"/>
<path d="M55.3,470.0 Q55.3,468.0 57.3,468.0 L67.1,468.0 Q69.1,468.0 69.1,470.0 L69.1,478.8 C69.1,483.8 65.7,486.0 62.2,486.0 C58.8,486.0 55.3,483.8 55.3,478.8Z" fill="#7412ff" fill-opacity="1"/>
<ellipse cx="62.2" cy="477.0" rx="4.1" ry="5.4" fill="#2c1cff"/>
<ellipse cx="62.2" cy="477.0" rx="1.7" ry="2.2" fill="#10c0ff"/>
</g>
<g filter="url(#soft)">
<rect x="74.46000000000001" y="453.2" width="15" height="47" fill="#222222"/>
<path d="M82.0,485.4 Q82.2,493.3 83.1,500.2" stroke="#b0b0b0" stroke-width="1.3" fill="none"/>
<path d="M74.1,485.4 L77.6,482.9 M89.9,485.4 L86.4,482.9" stroke="#a8a8a8" stroke-width="1.2" fill="none"/>
<path d="M82.0,454.4 C83.2,454.4 85.4,461.3 86.1,465.0 C86.8,466.9 88.4,467.6 88.4,471.4 C88.6,478.4 88.4,483.2 86.6,485.4 Q82.0,487.4 77.4,485.4 C75.6,483.2 75.3,478.4 75.6,471.4 C75.6,467.6 77.1,466.9 77.9,465.0 C78.5,461.3 80.7,454.4 82.0,454.4Z" fill="#e2e2e2"/>
<path d="M82.0,454.9 L85.2,464.7 L78.7,464.7Z" fill="#f2f2f2"/>
<ellipse cx="77.9" cy="463.7" rx="1.3" ry="1.3" fill="#c4c4c4"/>
<ellipse cx="86.1" cy="463.7" rx="1.3" ry="1.3" fill="#c4c4c4"/>
<path d="M75.1,467.0 Q75.1,465.0 77.1,465.0 L86.9,465.0 Q88.9,465.0 88.9,467.0 L88.9,477.8 C88.9,482.8 85.4,485.0 82.0,485.0 C78.5,485.0 75.1,482.8 75.1,477.8Z" fill="#7412ff" fill-opacity="1"/>
<ellipse cx="82.0" cy="475.0" rx="2.8" ry="4.0" fill="#2c1cff"/>
</g>
<g filter="url(#soft)">
<rect x="94.19" y="453.2" width="15" height="47" fill="#222222"/>
<path d="M101.7,483.4 Q101.7,492.3 101.9,500.2" stroke="#b0b0b0" stroke-width="1.3" fill="none"/>
<path d="M93.8,483.4 L97.3,480.9 M109.6,483.4 L106.1,480.9" stroke="#a8a8a8" stroke-width="1.2" fill="none"/>
<path d="M101.7,454.4 C103.0,454.4 105.2,461.4 105.8,465.2 C106.6,467.0 108.1,467.6 108.1,471.2 C108.3,476.9 108.1,481.4 106.3,483.5 Q101.7,485.3 97.1,483.5 C95.3,481.4 95.0,476.9 95.3,471.2 C95.3,467.6 96.8,467.0 97.6,465.2 C98.2,461.4 100.4,454.4 101.7,454.4Z" fill="#e2e2e2"/>
<path d="M101.7,454.9 L105.0,464.9 L98.4,464.9Z" fill="#f2f2f2"/>
<ellipse cx="97.6" cy="463.9" rx="1.3" ry="1.2" fill="#c4c4c4"/>
<ellipse cx="105.8" cy="463.9" rx="1.3" ry="1.2" fill="#c4c4c4"/>
<ellipse cx="101.7" cy="476.3" rx="6.9" ry="6.6" fill="#7412ff"/>
</g>
<g filter="url(#soft)">
<rect x="113.92" y="453.2" width="15" height="47" fill="#222222"/>
<path d="M121.4,485.4 Q121.1,493.3 119.9,500.2" stroke="#b0b0b0" stroke-width="1.3" fill="none"/>
<path d="M113.5,485.4 L117.0,482.9 M129.3,485.4 L125.8,482.9" stroke="#a8a8a8" stroke-width="1.2" fill="none"/>
<path d="M121.4,454.4 C122.7,454.4 124.9,463.0 125.5,467.6 C126.3,469.5 127.8,470.2 127.8,474.0 C128.1,478.4 127.8,483.2 126.0,485.4 Q121.4,487.4 116.8,485.4 C115.0,483.2 114.8,478.4 115.0,474.0 C115.0,470.2 116.6,469.5 117.3,467.6 C117.9,463.0 120.1,454.4 121.4,454.4Z" fill="#e2e2e2"/>
<path d="M121.4,454.9 L124.7,467.2 L118.1,467.2Z" fill="#f2f2f2"/>
<ellipse cx="117.3" cy="466.0" rx="1.3" ry="1.3" fill="#c4c4c4"/>
<ellipse cx="125.5" cy="466.0" rx="1.3" ry="1.3" fill="#c4c4c4"/>
<path d="M114.5,469.6 Q114.5,467.6 116.5,467.6 L126.3,467.6 Q128.3,467.6 128.3,469.6 L128.3,477.8 C128.3,482.8 124.9,485.0 121.4,485.0 C118.0,485.0 114.5,482.8 114.5,477.8Z" fill="#7412ff" fill-opacity="1"/>
<ellipse cx="121.4" cy="476.3" rx="3.8" ry="4.8" fill="#2c1cff"/>
<ellipse cx="121.4" cy="476.3" rx="1.4" ry="1.7" fill="#10c0ff"/>
</g>
<g filter="url(#soft)">
<rect x="133.65" y="453.2" width="15" height="47" fill="#222222"/>
<path d="M141.2,485.4 Q141.1,493.3 141.0,500.2" stroke="#b0b0b0" stroke-width="1.3" fill="none"/>
<path d="M133.2,485.4 L136.8,482.9 M149.1,485.4 L145.6,482.9" stroke="#a8a8a8" stroke-width="1.2" fill="none"/>
<path d="M141.2,454.4 C142.4,454.4 144.6,463.8 145.2,468.8 C146.0,470.7 147.6,471.4 147.6,475.2 C147.8,478.4 147.6,483.2 145.8,485.4 Q141.2,487.4 136.5,485.4 C134.8,483.2 134.5,478.4 134.8,475.2 C134.8,471.4 136.3,470.7 137.1,468.8 C137.7,463.8 139.9,454.4 141.2,454.4Z" fill="#e2e2e2"/>
<path d="M141.2,454.9 L144.4,468.4 L137.9,468.4Z" fill="#f2f2f2"/>
<ellipse cx="137.1" cy="467.1" rx="1.3" ry="1.3" fill="#c4c4c4"/>
<ellipse cx="145.2" cy="467.1" rx="1.3" ry="1.3" fill="#c4c4c4"/>
<path d="M134.6,471.7 Q134.6,469.7 136.6,469.7 L145.8,469.7 Q147.8,469.7 147.8,471.7 L147.8,478.4 C147.8,483.2 144.5,485.3 141.2,485.3 C137.8,485.3 134.6,483.2 134.6,478.4Z" fill="#7412ff" fill-opacity="1"/>
<ellipse cx="141.2" cy="477.5" rx="3.3" ry="3.9" fill="#2c1cff"/>
<ellipse cx="141.2" cy="477.5" rx="1.3" ry="1.6" fill="#10c0ff"/>
</g>
<g filter="url(#soft)">
<rect x="153.38" y="453.2" width="15" height="47" fill="#222222"/>
<path d="M160.9,485.4 Q161.3,493.3 163.1,500.2" stroke="#b0b0b0" stroke-width="1.3" fill="none"/>
<path d="M153.0,485.4 L156.5,482.9 M168.8,485.4 L165.3,482.9" stroke="#a8a8a8" stroke-width="1.2" fill="none"/>
<path d="M160.9,454.4 C162.2,454.4 164.4,461.3 165.0,465.0 C165.7,466.9 167.3,467.6 167.3,471.4 C167.5,478.4 167.3,483.2 165.5,485.4 Q160.9,487.4 156.3,485.4 C154.5,483.2 154.2,478.4 154.5,471.4 C154.5,467.6 156.0,466.9 156.8,465.0 C157.4,461.3 159.6,454.4 160.9,454.4Z" fill="#e2e2e2"/>
<path d="M160.9,454.9 L164.2,464.7 L157.6,464.7Z" fill="#f2f2f2"/>
<ellipse cx="156.8" cy="463.7" rx="1.3" ry="1.3" fill="#c4c4c4"/>
<ellipse cx="165.0" cy="463.7" rx="1.3" ry="1.3" fill="#c4c4c4"/>
<path d="M154.0,467.0 Q154.0,465.0 156.0,465.0 L165.8,465.0 Q167.8,465.0 167.8,467.0 L167.8,477.8 C167.8,482.8 164.3,485.0 160.9,485.0 C157.4,485.0 154.0,482.8 154.0,477.8Z" fill="#7412ff" fill-opacity="1"/>
<ellipse cx="160.9" cy="475.0" rx="4.8" ry="7.0" fill="#2c1cff"/>
<ellipse cx="160.9" cy="475.0" rx="2.4" ry="3.5" fill="#10c0ff"/>
<ellipse cx="160.9" cy="475.0" rx="1.0" ry="1.5" fill="#20ff80"/>
</g>
<g filter="url(#soft)">
<rect x="173.11" y="453.2" width="15" height="47" fill="#222222"/>
<path d="M180.6,486.4 Q180.2,493.8 178.6,500.2" stroke="#b0b0b0" stroke-width="1.3" fill="none"/>
<path d="M172.7,486.4 L176.2,483.9 M188.5,486.4 L185.0,483.9" stroke="#a8a8a8" stroke-width="1.2" fill="none"/>
<path d="M180.6,454.4 C181.9,454.4 184.1,461.9 184.7,466.0 C185.5,468.0 187.0,468.6 187.0,472.6 C187.3,479.1 187.0,484.1 185.2,486.4 Q180.6,488.4 176.0,486.4 C174.2,484.1 174.0,479.1 174.2,472.6 C174.2,468.6 175.7,468.0 176.5,466.0 C177.1,461.9 179.3,454.4 180.6,454.4Z" fill="#e2e2e2"/>
<path d="M180.6,454.9 L183.9,465.7 L177.3,465.7Z" fill="#f2f2f2"/>
<ellipse cx="176.5" cy="464.6" rx="1.3" ry="1.3" fill="#c4c4c4"/>
<ellipse cx="184.7" cy="464.6" rx="1.3" ry="1.3" fill="#c4c4c4"/>
<path d="M173.7,468.0 Q173.7,466.0 175.7,466.0 L185.5,466.0 Q187.5,466.0 187.5,468.0 L187.5,478.8 C187.5,483.8 184.1,486.0 180.6,486.0 C177.2,486.0 173.7,483.8 173.7,478.8Z" fill="#7412ff" fill-opacity="1"/>
<ellipse cx="180.6" cy="476.0" rx="4.5" ry="6.5" fill="#2c1cff"/>
<ellipse cx="180.6" cy="476.0" rx="1.5" ry="2.2" fill="#10c0ff"/>
</g>
<g filter="url(#soft)">
<rect x="192.84" y="453.2" width="15" height="47" fill="#222222"/>
<path d="M200.3,486.4 Q200.7,493.8 201.9,500.2" stroke="#b0b0b0" stroke-width="1.3" fill="none"/>
<path d="M192.4,486.4 L195.9,483.9 M208.2,486.4 L204.7,483.9" stroke="#a8a8a8" stroke-width="1.2" fill="none"/>
<path d="M200.3,454.4 C201.6,454.4 203.8,460.6 204.4,464.0 C205.2,466.0 206.7,466.6 206.7,470.6 C207.0,479.1 206.7,484.1 204.9,486.4 Q200.3,488.4 195.7,486.4 C193.9,484.1 193.7,479.1 193.9,470.6 C193.9,466.6 195.5,466.0 196.2,464.0 C196.9,460.6 199.1,454.4 200.3,454.4Z" fill="#e2e2e2"/>
<path d="M200.3,454.9 L203.6,463.7 L197.1,463.7Z" fill="#f2f2f2"/>
<ellipse cx="196.2" cy="462.8" rx="1.3" ry="1.3" fill="#c4c4c4"/>
<ellipse cx="204.4" cy="462.8" rx="1.3" ry="1.3" fill="#c4c4c4"/>
<path d="M193.4,466.0 Q193.4,464.0 195.4,464.0 L205.2,464.0 Q207.2,464.0 207.2,466.0 L207.2,478.8 C207.2,483.8 203.8,486.0 200.3,486.0 C196.9,486.0 193.4,483.8 193.4,478.8Z" fill="#7412ff" fill-opacity="1"/>
<ellipse cx="200.3" cy="475.0" rx="5.2" ry="8.2" fill="#2c1cff"/>
<ellipse cx="200.3" cy="475.0" rx="3.1" ry="5.0" fill="#10c0ff"/>
<ellipse cx="200.3" cy="475.0" rx="1.5" ry="2.4" fill="#20ff80"/>
</g>
<g filter="url(#soft)">
<rect x="212.57" y="453.2" width="15" height="47" fill="#5a24b8"/>
<path d="M220.1,491.4 Q220.0,496.3 219.7,500.2" stroke="#b0b0b0" stroke-width="1.3" fill="none"/>
<path d="M212.2,491.4 L215.7,488.9 M228.0,491.4 L224.5,488.9" stroke="#a8a8a8" stroke-width="1.2" fill="none"/>
<path d="M220.1,454.4 C221.3,454.4 223.6,460.8 224.2,464.3 C224.9,466.6 226.5,467.3 226.5,471.9 C226.7,482.9 226.5,488.6 224.7,491.3 Q220.1,493.5 215.5,491.3 C213.7,488.6 213.4,482.9 213.7,471.9 C213.7,467.3 215.2,466.6 216.0,464.3 C216.6,460.8 218.8,454.4 220.1,454.4Z" fill="#e2e2e2"/>
<path d="M220.1,454.9 L223.3,464.0 L216.8,464.0Z" fill="#f2f2f2"/>
<ellipse cx="216.0" cy="463.1" rx="1.3" ry="1.5" fill="#c4c4c4"/>
<ellipse cx="224.2" cy="463.1" rx="1.3" ry="1.5" fill="#c4c4c4"/>
<path d="M212.8,465.0 Q212.8,463.0 214.8,463.0 L225.4,463.0 Q227.4,463.0 227.4,465.0 L227.4,485.3 C227.4,490.7 223.7,493.0 220.1,493.0 C216.4,493.0 212.8,490.7 212.8,485.3Z" fill="#7412ff" fill-opacity="1"/>
<ellipse cx="220.1" cy="478.0" rx="4.4" ry="9.0" fill="#2c1cff"/>
<ellipse cx="220.1" cy="478.0" rx="2.8" ry="5.7" fill="#10c0ff"/>
<ellipse cx="220.1" cy="478.0" rx="1.5" ry="3.0" fill="#20ff80"/>
</g>
<text x="296.5" y="233.8" font-size="29.5" font-weight="bold">C</text>
<text x="303.5" y="274" font-size="14" font-weight="normal" text-anchor="start" fill="#000" textLength="40.8" lengthAdjust="spacingAndGlyphs" >Tumor</text>
<text x="358.3" y="274" font-size="14" font-weight="normal" text-anchor="start" fill="#000" textLength="41.7" lengthAdjust="spacingAndGlyphs" >T-cells</text>
<line x1="332.8" y1="278.3" x2="332.8" y2="291" stroke="#000" stroke-width="1.8"/>
<path d="M327.0,289.5 L338.6,289.5 L332.8,302.3Z" fill="#000"/>
<line x1="355" y1="278.3" x2="355" y2="291" stroke="#000" stroke-width="1.8"/>
<path d="M349.2,289.5 L360.8,289.5 L355,302.3Z" fill="#000"/>
<path d="M333.3,309 L333.3,462.9 L496.5,462.9" stroke="#000" stroke-width="2.4" fill="none"/>
<text x="329.6" y="467.6" font-size="14" font-weight="normal" text-anchor="end" fill="#000" >0</text>
<text x="329.6" y="433.7" font-size="14" font-weight="normal" text-anchor="end" fill="#000" >10</text>
<text x="329.6" y="399.8" font-size="14" font-weight="normal" text-anchor="end" fill="#000" >20</text>
<text x="329.6" y="365.9" font-size="14" font-weight="normal" text-anchor="end" fill="#000" >30</text>
<text x="329.6" y="332.0" font-size="14" font-weight="normal" text-anchor="end" fill="#000" >40</text>
<text x="336.0" y="478.5" font-size="14" font-weight="normal" text-anchor="middle" fill="#000" >-5</text>
<text x="358.0" y="478.5" font-size="14" font-weight="normal" text-anchor="middle" fill="#000" >0</text>
<text x="381.2" y="478.5" font-size="14" font-weight="normal" text-anchor="middle" fill="#000" >5</text>
<text x="407.5" y="478.5" font-size="14" font-weight="normal" text-anchor="middle" fill="#000" >10</text>
<text x="431.5" y="478.5" font-size="14" font-weight="normal" text-anchor="middle" fill="#000" >15</text>
<text x="453.7" y="478.5" font-size="14" font-weight="normal" text-anchor="middle" fill="#000" >20</text>
<text x="476.7" y="478.5" font-size="14" font-weight="normal" text-anchor="middle" fill="#000" >25</text>
<text x="499.8" y="478.5" font-size="14" font-weight="normal" text-anchor="middle" fill="#000" >30</text>
<text transform="translate(310.5,467) rotate(-90)" font-size="14" font-weight="bold" textLength="165.5" lengthAdjust="spacingAndGlyphs">Bioluminescence (x10<tspan font-size="9" dy="-5">6</tspan><tspan dy="5">)</tspan></text>
<text x="349" y="495.3" font-size="14" font-weight="bold" text-anchor="start" fill="#000" textLength="169.6" lengthAdjust="spacingAndGlyphs" >Days after T-cell therapy</text>
<polyline points="337.7,452.5 351.2,455.5 361.0,454.0 370.0,460.0 384.8,462.5 398.3,462.5 412.3,461.5 430.2,451.4 453.3,458.8 463.5,462.6 491.4,458.2" stroke="#000000" stroke-width="2.3" fill="none" stroke-linejoin="round"/>
<rect x="334.8" y="449.6" width="5.8" height="5.8" fill="#000000"/>
<rect x="348.3" y="452.6" width="5.8" height="5.8" fill="#000000"/>
<rect x="358.1" y="451.1" width="5.8" height="5.8" fill="#000000"/>
<rect x="367.1" y="457.1" width="5.8" height="5.8" fill="#000000"/>
<rect x="381.9" y="459.6" width="5.8" height="5.8" fill="#000000"/>
<rect x="395.4" y="459.6" width="5.8" height="5.8" fill="#000000"/>
<rect x="409.4" y="458.6" width="5.8" height="5.8" fill="#000000"/>
<rect x="427.3" y="448.5" width="5.8" height="5.8" fill="#000000"/>
<rect x="450.4" y="455.9" width="5.8" height="5.8" fill="#000000"/>
<rect x="460.6" y="459.7" width="5.8" height="5.8" fill="#000000"/>
<rect x="488.5" y="455.3" width="5.8" height="5.8" fill="#000000"/>
<polyline points="337.7,455.5 351.2,451.5 361.0,450.0 370.0,454.5 384.8,462.0 398.3,457.5 412.3,457.0 430.2,442.2 453.3,402.0 463.5,415.6 491.4,384.0" stroke="#e01010" stroke-width="2.3" fill="none" stroke-linejoin="round"/>
<circle cx="337.7" cy="455.5" r="3.1" fill="#e01010"/>
<circle cx="351.2" cy="451.5" r="3.1" fill="#e01010"/>
<circle cx="361.0" cy="450.0" r="3.1" fill="#e01010"/>
<circle cx="370.0" cy="454.5" r="3.1" fill="#e01010"/>
<circle cx="384.8" cy="462.0" r="3.1" fill="#e01010"/>
<circle cx="398.3" cy="457.5" r="3.1" fill="#e01010"/>
<circle cx="412.3" cy="457.0" r="3.1" fill="#e01010"/>
<circle cx="430.2" cy="442.2" r="3.1" fill="#e01010"/>
<circle cx="453.3" cy="402.0" r="3.1" fill="#e01010"/>
<circle cx="463.5" cy="415.6" r="3.1" fill="#e01010"/>
<circle cx="491.4" cy="384.0" r="3.1" fill="#e01010"/>
<polyline points="337.7,452.5 351.2,461.5 361.0,449.0 370.0,455.5 384.8,447.0 398.3,455.0 412.3,444.5 430.2,426.5 453.3,397.6 463.5,392.5 491.4,321.4" stroke="#1010e0" stroke-width="2.3" fill="none" stroke-linejoin="round"/>
<rect x="335.3" y="450.1" width="4.8" height="4.8" fill="#fff" stroke="#1010e0" stroke-width="1.5"/>
<rect x="348.8" y="459.1" width="4.8" height="4.8" fill="#fff" stroke="#1010e0" stroke-width="1.5"/>
<rect x="358.6" y="446.6" width="4.8" height="4.8" fill="#fff" stroke="#1010e0" stroke-width="1.5"/>
<rect x="367.6" y="453.1" width="4.8" height="4.8" fill="#fff" stroke="#1010e0" stroke-width="1.5"/>
<rect x="382.4" y="444.6" width="4.8" height="4.8" fill="#fff" stroke="#1010e0" stroke-width="1.5"/>
<rect x="395.9" y="452.6" width="4.8" height="4.8" fill="#fff" stroke="#1010e0" stroke-width="1.5"/>
<rect x="409.9" y="442.1" width="4.8" height="4.8" fill="#fff" stroke="#1010e0" stroke-width="1.5"/>
<rect x="427.8" y="424.1" width="4.8" height="4.8" fill="#fff" stroke="#1010e0" stroke-width="1.5"/>
<rect x="450.9" y="395.2" width="4.8" height="4.8" fill="#fff" stroke="#1010e0" stroke-width="1.5"/>
<rect x="461.1" y="390.1" width="4.8" height="4.8" fill="#fff" stroke="#1010e0" stroke-width="1.5"/>
<rect x="489.0" y="319.0" width="4.8" height="4.8" fill="#fff" stroke="#1010e0" stroke-width="1.5"/>
<polyline points="337.7,452.0 351.2,454.0 361.0,457.3 370.0,449.0 384.8,436.2 398.3,449.6 412.3,442.0 430.2,426.5 453.3,371.4 463.5,357.8" stroke="#108a10" stroke-width="2.3" fill="none" stroke-linejoin="round"/>
<circle cx="337.7" cy="452.0" r="2.3" fill="#fff" stroke="#108a10" stroke-width="1.5"/>
<circle cx="351.2" cy="454.0" r="2.3" fill="#fff" stroke="#108a10" stroke-width="1.5"/>
<circle cx="361.0" cy="457.3" r="2.3" fill="#fff" stroke="#108a10" stroke-width="1.5"/>
<circle cx="370.0" cy="449.0" r="2.3" fill="#fff" stroke="#108a10" stroke-width="1.5"/>
<circle cx="384.8" cy="436.2" r="2.3" fill="#fff" stroke="#108a10" stroke-width="1.5"/>
<circle cx="398.3" cy="449.6" r="2.3" fill="#fff" stroke="#108a10" stroke-width="1.5"/>
<circle cx="412.3" cy="442.0" r="2.3" fill="#fff" stroke="#108a10" stroke-width="1.5"/>
<circle cx="430.2" cy="426.5" r="2.3" fill="#fff" stroke="#108a10" stroke-width="1.5"/>
<circle cx="453.3" cy="371.4" r="2.3" fill="#fff" stroke="#108a10" stroke-width="1.5"/>
<circle cx="463.5" cy="357.8" r="2.3" fill="#fff" stroke="#108a10" stroke-width="1.5"/>
<line x1="346.7" y1="329.2" x2="366" y2="329.2" stroke="#000000" stroke-width="2.4"/>
<rect x="353.8" y="325.7" width="7" height="7" fill="#000000"/>
<text x="374.2" y="334.4" font-size="14" font-weight="bold" text-anchor="start" fill="#000" >HOX</text>
<line x1="346.7" y1="341.2" x2="366" y2="341.2" stroke="#e01010" stroke-width="2.4"/>
<circle cx="357.3" cy="341.2" r="3.8" fill="#e01010"/>
<text x="374.2" y="346.4" font-size="14" font-weight="bold" text-anchor="start" fill="#000" >HDFTr</text>
<line x1="346.7" y1="353.3" x2="366" y2="353.3" stroke="#1010e0" stroke-width="2.4"/>
<rect x="354.3" y="350.3" width="6" height="6" fill="#fff" stroke="#1010e0" stroke-width="1.6"/>
<text x="374.2" y="358.5" font-size="14" font-weight="bold" text-anchor="start" fill="#000" >DOX</text>
<line x1="346.7" y1="365.4" x2="366" y2="365.4" stroke="#108a10" stroke-width="2.4"/>
<circle cx="357.3" cy="365.4" r="3" fill="#fff" stroke="#108a10" stroke-width="1.6"/>
<text x="374.2" y="370.6" font-size="14" font-weight="bold" text-anchor="start" fill="#000" >Medium</text>
<text x="491.7" y="320.8" font-size="17.5" font-weight="bold" text-anchor="middle">*</text>
<text x="458.6" y="358.5" font-size="17.5" font-weight="bold" text-anchor="middle">*</text>
<text x="468.4" y="358.5" font-size="17.5" font-weight="bold" text-anchor="middle">*</text>
<text x="451.6" y="370.9" font-size="17.5" font-weight="bold" text-anchor="middle">*</text>
<text x="428.2" y="424.5" font-size="17.5" font-weight="bold" text-anchor="middle">*</text>
<path d="M383.4,413.7 L383.4,428.6 M379.2,417.9 L387.6,417.9" stroke="#000" stroke-width="2.1" fill="none"/>
</svg>
</body></html>
